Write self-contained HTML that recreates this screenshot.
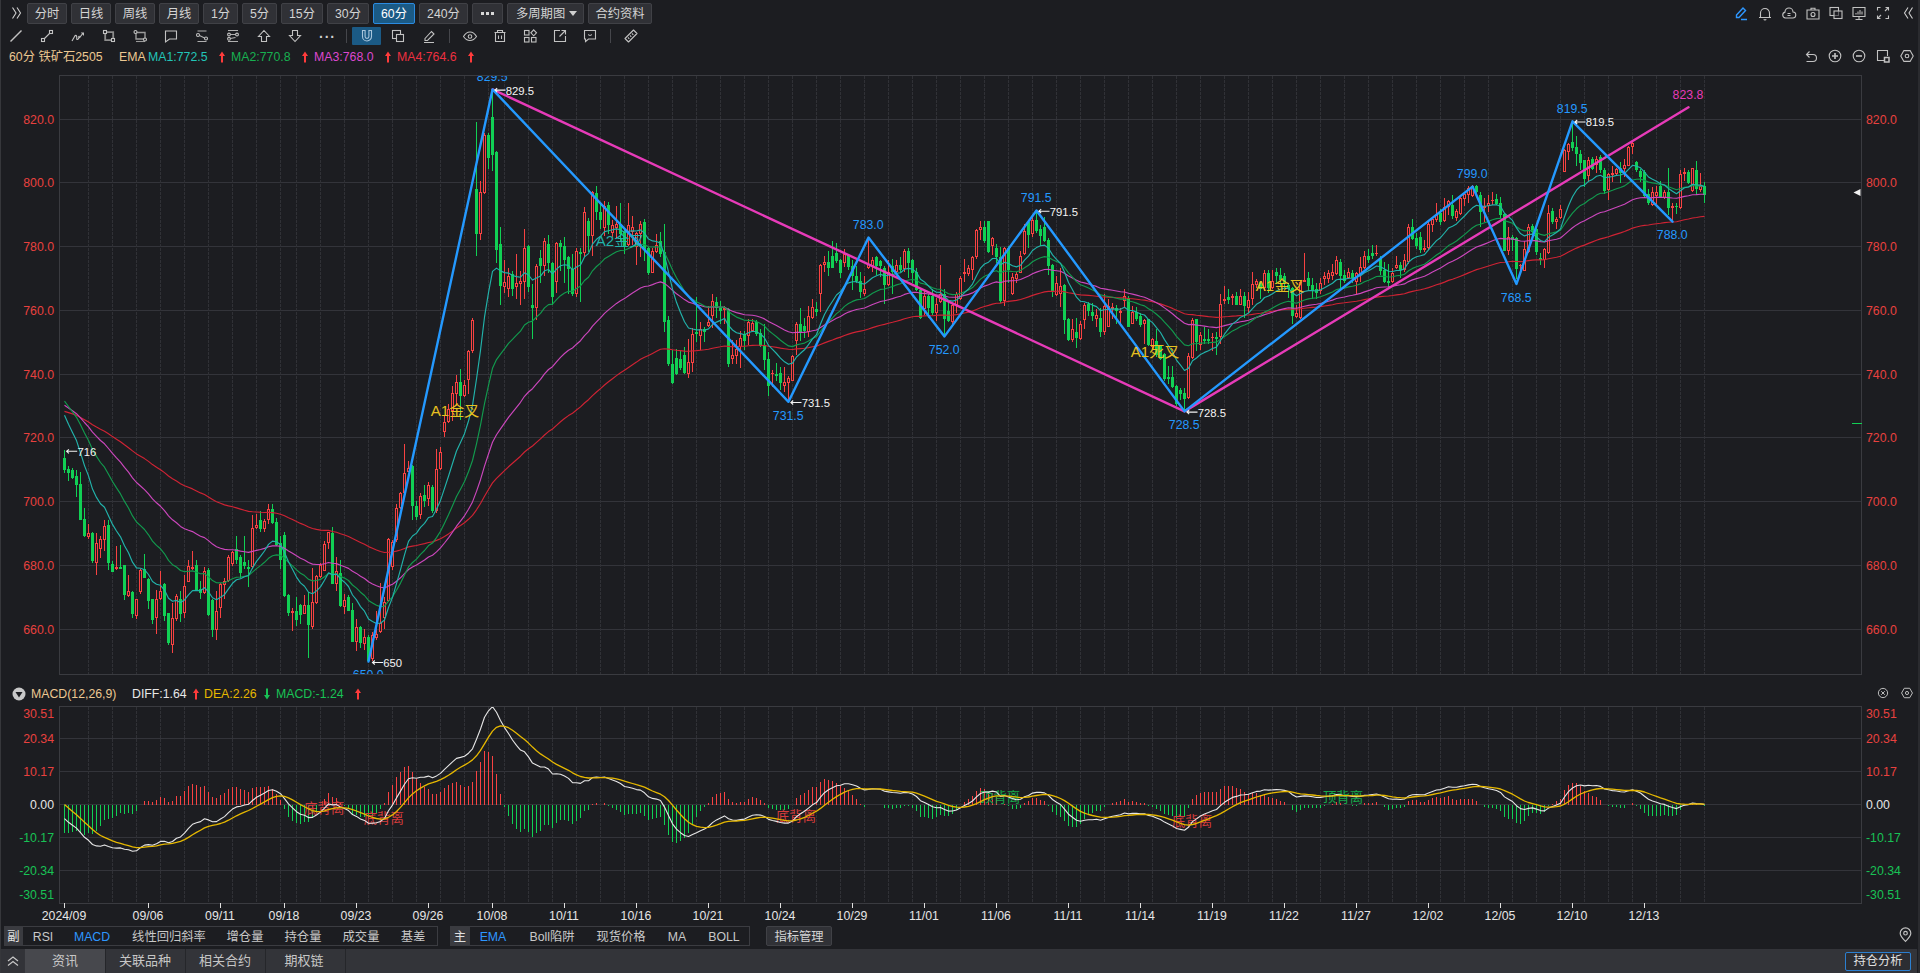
<!DOCTYPE html>
<html lang="zh-CN"><head><meta charset="utf-8"><title>60分 铁矿石2505</title>
<style>
html,body{margin:0;padding:0}
body{width:1920px;height:973px;background:#1c1d21;position:relative;overflow:hidden;font-family:"Liberation Sans","Noto Sans CJK SC",sans-serif;font-size:12.3px;color:#d2d2d2}
.ic{position:absolute;overflow:visible}
.b{position:absolute;top:3px;height:19px;line-height:20px;border:1px solid #404146;background:#303136;border-radius:2px;text-align:center;color:#d4d4d4;box-sizing:content-box}
.b.on{background:#1b5a85;border-color:#2b8be0;color:#fff}
.t{position:absolute;white-space:nowrap;line-height:16px}
.sep{position:absolute;width:1px;background:#45464b}
</style></head><body>
<div style="position:absolute;left:0;top:0;width:1px;height:973px;background:#36373b"></div>
<div style="position:absolute;left:1918px;top:0;width:2px;height:973px;background:#2a2b2f"></div>

<svg width="1920" height="973" viewBox="0 0 1920 973" style="position:absolute;left:0;top:0">
<defs><clipPath id="cm"><rect x="60" y="76" width="1801" height="598"/></clipPath><clipPath id="cd"><rect x="60" y="707" width="1801" height="196"/></clipPath></defs>
<g shape-rendering="crispEdges" fill="none" stroke="#33343a" stroke-width="1">
<path d="M60 629.5H1861M60 565.5H1861M60 501.5H1861M60 437.5H1861M60 374.5H1861M60 310.5H1861M60 246.5H1861M60 182.5H1861M60 119.5H1861"/>
<path stroke-dasharray="3 1" stroke="#303136" d="M88.5 76V674M112.5 76V674M136.5 76V674M160.5 76V674M184.5 76V674M208.5 76V674M232.5 76V674M256.5 76V674M280.5 76V674M296.5 76V674M320.5 76V674M344.5 76V674M368.5 76V674M392.5 76V674M416.5 76V674M440.5 76V674M464.5 76V674M488.5 76V674M504.5 76V674M528.5 76V674M552.5 76V674M576.5 76V674M600.5 76V674M624.5 76V674M648.5 76V674M672.5 76V674M696.5 76V674M720.5 76V674M744.5 76V674M768.5 76V674M792.5 76V674M816.5 76V674M840.5 76V674M864.5 76V674M888.5 76V674M912.5 76V674M936.5 76V674M960.5 76V674M984.5 76V674M1008.5 76V674M1032.5 76V674M1056.5 76V674M1080.5 76V674M1104.5 76V674M1128.5 76V674M1152.5 76V674M1176.5 76V674M1200.5 76V674M1224.5 76V674M1248.5 76V674M1272.5 76V674M1296.5 76V674M1320.5 76V674M1344.5 76V674M1368.5 76V674M1392.5 76V674M1416.5 76V674M1440.5 76V674M1464.5 76V674M1488.5 76V674M1512.5 76V674M1536.5 76V674M1560.5 76V674M1584.5 76V674M1608.5 76V674M1632.5 76V674M1656.5 76V674M1680.5 76V674M1704.5 76V674"/>
<path d="M60 738.5H1861M60 771.5H1861M60 804.5H1861M60 837.5H1861M60 870.5H1861"/>
<path stroke-dasharray="3 1" stroke="#303136" d="M88.5 707V903M112.5 707V903M136.5 707V903M160.5 707V903M184.5 707V903M208.5 707V903M232.5 707V903M256.5 707V903M280.5 707V903M296.5 707V903M320.5 707V903M344.5 707V903M368.5 707V903M392.5 707V903M416.5 707V903M440.5 707V903M464.5 707V903M488.5 707V903M504.5 707V903M528.5 707V903M552.5 707V903M576.5 707V903M600.5 707V903M624.5 707V903M648.5 707V903M672.5 707V903M696.5 707V903M720.5 707V903M744.5 707V903M768.5 707V903M792.5 707V903M816.5 707V903M840.5 707V903M864.5 707V903M888.5 707V903M912.5 707V903M936.5 707V903M960.5 707V903M984.5 707V903M1008.5 707V903M1032.5 707V903M1056.5 707V903M1080.5 707V903M1104.5 707V903M1128.5 707V903M1152.5 707V903M1176.5 707V903M1200.5 707V903M1224.5 707V903M1248.5 707V903M1272.5 707V903M1296.5 707V903M1320.5 707V903M1344.5 707V903M1368.5 707V903M1392.5 707V903M1416.5 707V903M1440.5 707V903M1464.5 707V903M1488.5 707V903M1512.5 707V903M1536.5 707V903M1560.5 707V903M1584.5 707V903M1608.5 707V903M1632.5 707V903M1656.5 707V903M1680.5 707V903M1704.5 707V903"/>
<path stroke="#3a3b40" d="M59.5 75.5H1861.5V674.5H59.5Z M59.5 706.5H1861.5V903.5H59.5Z"/>
</g>
<g clip-path="url(#cm)" shape-rendering="crispEdges">
<path d="M64.5 450V473M68.5 466V481M72.5 468V479M76.5 470V497M80.5 472V520M84.5 508V537M92.5 532V563M108.5 520V570M112.5 561V572M120.5 545V569M124.5 565V600M132.5 591V618M144.5 554V578M148.5 578V609M152.5 599V624M164.5 583V621M168.5 613V645M180.5 591V622M196.5 560V590M200.5 581V599M208.5 568V616M212.5 599V637M236.5 536V564M240.5 555V578M244.5 536V569M248.5 560V587M260.5 511V532M272.5 504V524M276.5 518V546M280.5 536V569M284.5 532V597M288.5 594V616M296.5 597V626M300.5 604V624M308.5 592V658M332.5 527V584M340.5 560V607M348.5 595V611M352.5 603V642M360.5 626V648M368.5 635V662M412.5 465V520M416.5 501V520M424.5 485V507M432.5 485V513M460.5 369V420M476.5 122V256M488.5 133V169M492.5 90V171M496.5 151V263M500.5 227V305M512.5 271V296M528.5 245V292M532.5 284V339M540.5 250V283M548.5 235V273M552.5 262V305M560.5 240V271M564.5 237V283M568.5 256V294M572.5 254V296M580.5 248V302M588.5 218V252M596.5 186V220M600.5 203V229M608.5 202V234M620.5 203V241M624.5 228V254M644.5 219V261M648.5 247V275M660.5 232V257M664.5 224V332M668.5 316V366M672.5 350V384M676.5 349V375M680.5 351V370M684.5 347V374M696.5 297V342M704.5 327V342M716.5 297V318M720.5 301V324M728.5 308V367M744.5 331V350M756.5 320V336M760.5 329V347M764.5 324V370M768.5 352V396M776.5 363V381M780.5 367V390M800.5 308V341M804.5 318V338M816.5 302V316M828.5 251V276M832.5 241V268M836.5 243V263M840.5 259V278M848.5 254V270M852.5 260V290M856.5 266V283M860.5 272V298M876.5 256V275M880.5 260V277M884.5 266V304M892.5 259V294M900.5 257V272M908.5 248V278M912.5 259V283M916.5 268V291M920.5 289V319M928.5 294V318M932.5 289V315M944.5 289V335M948.5 301V322M984.5 221V243M988.5 221V253M996.5 244V263M1000.5 247V303M1008.5 246V283M1028.5 221V248M1036.5 211V233M1040.5 225V246M1044.5 217V242M1048.5 238V275M1052.5 264V297M1064.5 284V334M1068.5 318V341M1076.5 318V348M1088.5 302V316M1092.5 303V321M1100.5 308V337M1116.5 305V324M1128.5 296V327M1136.5 307V321M1140.5 313V327M1148.5 319V346M1156.5 329V357M1160.5 345V360M1164.5 353V381M1168.5 366V384M1172.5 366V388M1176.5 385V406M1180.5 388V400M1184.5 388V411M1196.5 319V351M1204.5 327V344M1208.5 329V344M1216.5 332V355M1228.5 289V304M1236.5 292V305M1244.5 292V318M1260.5 281V299M1268.5 270V293M1276.5 268V283M1280.5 268V286M1284.5 273V288M1288.5 283V298M1292.5 287V324M1308.5 272V291M1312.5 278V299M1316.5 283V299M1340.5 259V288M1344.5 270V283M1352.5 270V283M1368.5 249V263M1372.5 245V259M1380.5 256V275M1384.5 262V283M1388.5 264V287M1400.5 262V278M1412.5 219V240M1416.5 233V249M1420.5 232V253M1440.5 209V225M1452.5 195V219M1476.5 185V193M1480.5 192V227M1496.5 194V205M1500.5 197V219M1504.5 213V251M1512.5 235V251M1516.5 237V279M1532.5 224V241M1536.5 228V255M1540.5 253V265M1552.5 208V224M1572.5 121V151M1576.5 136V166M1580.5 150V170M1584.5 160V187M1592.5 157V170M1600.5 155V173M1604.5 168V194M1620.5 162V183M1636.5 161V172M1640.5 169V182M1644.5 170V198M1648.5 189V205M1660.5 181V198M1668.5 168V215M1676.5 203V214M1688.5 170V184M1696.5 161V195M1704.5 182V203" stroke="#11d054" fill="none"/>
<path d="M63 458h3V470h-3ZM67 469h3V473h-3ZM71 470h3V478h-3ZM75 476h3V485h-3ZM79 484h3V520h-3ZM83 519h3V536h-3ZM91 533h3V561h-3ZM107 525h3V563h-3ZM111 564h3V572h-3ZM119 567h3V569h-3ZM123 565h3V595h-3ZM131 592h3V614h-3ZM143 569h3V578h-3ZM147 579h3V601h-3ZM151 599h3V620h-3ZM163 584h3V616h-3ZM167 613h3V643h-3ZM179 599h3V614h-3ZM195 565h3V590h-3ZM199 589h3V593h-3ZM207 570h3V615h-3ZM211 600h3V630h-3ZM235 549h3V560h-3ZM239 557h3V573h-3ZM243 562h3V566h-3ZM247 567h3V569h-3ZM259 520h3V529h-3ZM271 509h3V523h-3ZM275 522h3V545h-3ZM279 543h3V560h-3ZM283 535h3V596h-3ZM287 595h3V613h-3ZM295 611h3V620h-3ZM299 605h3V615h-3ZM307 605h3V625h-3ZM331 533h3V584h-3ZM339 573h3V606h-3ZM347 597h3V611h-3ZM351 610h3V642h-3ZM359 627h3V643h-3ZM367 637h3V661h-3ZM411 466h3V506h-3ZM415 506h3V517h-3ZM423 495h3V501h-3ZM431 487h3V511h-3ZM459 382h3V396h-3ZM475 189h3V234h-3ZM487 135h3V158h-3ZM491 117h3V155h-3ZM495 152h3V250h-3ZM499 244h3V286h-3ZM511 274h3V289h-3ZM527 246h3V287h-3ZM531 305h3V308h-3ZM539 258h3V266h-3ZM547 244h3V263h-3ZM551 263h3V297h-3ZM559 243h3V247h-3ZM563 246h3V260h-3ZM567 257h3V269h-3ZM571 269h3V294h-3ZM579 252h3V254h-3ZM587 221h3V236h-3ZM595 193h3V212h-3ZM599 212h3V220h-3ZM607 205h3V225h-3ZM619 224h3V234h-3ZM623 231h3V247h-3ZM643 222h3V250h-3ZM647 248h3V273h-3ZM659 241h3V254h-3ZM663 252h3V322h-3ZM667 320h3V364h-3ZM671 364h3V383h-3ZM675 358h3V374h-3ZM679 359h3V368h-3ZM683 355h3V373h-3ZM695 332h3V334h-3ZM703 329h3V332h-3ZM715 302h3V308h-3ZM719 308h3V311h-3ZM727 309h3V364h-3ZM743 334h3V341h-3ZM755 322h3V334h-3ZM759 333h3V346h-3ZM763 345h3V360h-3ZM767 359h3V386h-3ZM775 374h3V376h-3ZM779 373h3V383h-3ZM799 324h3V333h-3ZM803 326h3V331h-3ZM815 309h3V312h-3ZM827 262h3V268h-3ZM831 256h3V268h-3ZM835 253h3V261h-3ZM839 260h3V273h-3ZM847 255h3V267h-3ZM851 266h3V276h-3ZM855 276h3V281h-3ZM859 281h3V292h-3ZM875 257h3V266h-3ZM879 261h3V266h-3ZM883 268h3V285h-3ZM891 266h3V272h-3ZM899 265h3V270h-3ZM907 251h3V263h-3ZM911 260h3V273h-3ZM915 272h3V290h-3ZM919 290h3V318h-3ZM927 296h3V308h-3ZM931 296h3V313h-3ZM943 294h3V319h-3ZM947 311h3V321h-3ZM983 227h3V241h-3ZM987 221h3V252h-3ZM995 248h3V257h-3ZM999 257h3V301h-3ZM1007 248h3V270h-3ZM1027 222h3V235h-3ZM1035 220h3V231h-3ZM1039 229h3V236h-3ZM1043 227h3V241h-3ZM1047 240h3V266h-3ZM1051 265h3V292h-3ZM1063 285h3V320h-3ZM1067 319h3V340h-3ZM1075 332h3V338h-3ZM1087 304h3V311h-3ZM1091 312h3V316h-3ZM1099 318h3V332h-3ZM1115 308h3V311h-3ZM1127 298h3V327h-3ZM1135 312h3V319h-3ZM1139 316h3V325h-3ZM1147 319h3V345h-3ZM1155 341h3V355h-3ZM1159 346h3V359h-3ZM1163 354h3V379h-3ZM1167 377h3V379h-3ZM1171 377h3V387h-3ZM1175 386h3V404h-3ZM1179 390h3V394h-3ZM1183 393h3V399h-3ZM1195 319h3V342h-3ZM1203 339h3V341h-3ZM1207 339h3V341h-3ZM1215 337h3V339h-3ZM1227 297h3V300h-3ZM1235 296h3V305h-3ZM1243 296h3V306h-3ZM1259 282h3V289h-3ZM1267 273h3V288h-3ZM1275 272h3V276h-3ZM1279 275h3V280h-3ZM1283 276h3V283h-3ZM1287 285h3V289h-3ZM1291 288h3V316h-3ZM1307 278h3V286h-3ZM1311 285h3V291h-3ZM1315 289h3V293h-3ZM1339 262h3V276h-3ZM1343 275h3V281h-3ZM1351 273h3V278h-3ZM1367 256h3V260h-3ZM1371 253h3V256h-3ZM1379 258h3V271h-3ZM1383 270h3V282h-3ZM1387 281h3V283h-3ZM1399 265h3V270h-3ZM1411 227h3V239h-3ZM1415 238h3V246h-3ZM1419 237h3V250h-3ZM1439 213h3V222h-3ZM1451 205h3V216h-3ZM1475 186h3V192h-3ZM1479 195h3V212h-3ZM1495 199h3V204h-3ZM1499 203h3V215h-3ZM1503 214h3V251h-3ZM1511 237h3V240h-3ZM1515 238h3V269h-3ZM1531 226h3V232h-3ZM1535 229h3V252h-3ZM1539 258h3V260h-3ZM1551 211h3V222h-3ZM1571 142h3V148h-3ZM1575 147h3V154h-3ZM1579 154h3V163h-3ZM1583 160h3V179h-3ZM1591 159h3V169h-3ZM1599 157h3V170h-3ZM1603 170h3V191h-3ZM1619 168h3V173h-3ZM1635 162h3V170h-3ZM1639 171h3V177h-3ZM1643 172h3V196h-3ZM1647 194h3V203h-3ZM1659 186h3V198h-3ZM1667 192h3V208h-3ZM1675 206h3V207h-3ZM1687 172h3V183h-3ZM1695 170h3V189h-3ZM1703 186h3V195h-3Z" fill="#11d054"/>
<path d="M88.5 524V533M88.5 537V539M96.5 533V543M96.5 563V575M100.5 536V539M100.5 549V558M104.5 520V526M104.5 540V551M116.5 546V567M116.5 569V570M128.5 575V591M128.5 596V597M136.5 616V619M140.5 569V570M140.5 592V594M156.5 590V599M156.5 618V634M160.5 571V591M160.5 599V600M172.5 603V618M172.5 645V653M176.5 594V596M176.5 619V621M184.5 575V586M184.5 613V618M188.5 560V566M192.5 551V567M192.5 569V570M204.5 567V571M204.5 593V594M216.5 591V611M216.5 630V640M220.5 583V584M220.5 608V618M224.5 578V581M224.5 585V599M228.5 555V557M228.5 581V582M232.5 551V552M232.5 564V566M252.5 515V528M252.5 567V569M256.5 514V525M256.5 528V529M264.5 519V521M264.5 529V532M268.5 504V509M268.5 520V524M292.5 608V611M292.5 613V631M304.5 595V605M312.5 568V602M312.5 627V629M316.5 575V576M316.5 603V604M320.5 563V565M320.5 577V578M324.5 541V544M328.5 543V549M336.5 557V571M336.5 584V591M344.5 594V600M344.5 607V614M356.5 619V627M356.5 642V651M364.5 629V637M364.5 644V650M372.5 632V635M372.5 659V661M376.5 611V634M376.5 638V640M380.5 583V623M380.5 632V633M384.5 597V602M384.5 618V629M388.5 538V539M388.5 601V602M392.5 540V542M392.5 567V570M396.5 504V508M396.5 540V542M400.5 492V493M400.5 508V509M404.5 444V473M404.5 493V494M408.5 461V468M420.5 493V496M420.5 515V519M428.5 482V485M428.5 499V506M436.5 449V469M436.5 511V513M440.5 447V452M440.5 469V470M444.5 416V422M444.5 432V437M448.5 404V409M448.5 422V423M452.5 386V393M452.5 411V421M456.5 375V382M456.5 394V406M464.5 380V385M464.5 396V397M468.5 350V351M468.5 380V394M472.5 318V320M472.5 351V353M480.5 181V192M480.5 234V240M484.5 133V135M484.5 193V194M504.5 260V282M504.5 287V293M508.5 268V276M508.5 289V297M516.5 254V283M516.5 287V299M520.5 271V281M520.5 284V305M524.5 229V248M524.5 282V299M536.5 264V266M536.5 308V320M544.5 238V241M544.5 266V276M556.5 242V243M556.5 282V293M576.5 248V251M576.5 294V297M584.5 207V212M584.5 253V257M592.5 191V192M592.5 236V256M604.5 201V206M604.5 228V236M612.5 220V225M612.5 233V237M616.5 206V224M616.5 228V239M628.5 203V225M628.5 245V246M632.5 216V227M632.5 232V245M636.5 232V233M636.5 247V265M640.5 221V224M640.5 234V257M652.5 248V251M656.5 234V245M656.5 252V253M688.5 339V362M688.5 374V378M692.5 328V334M692.5 363V372M700.5 322V329M700.5 336V350M708.5 306V322M708.5 326V327M712.5 294V301M712.5 316V328M724.5 306V308M724.5 310V324M732.5 340V355M732.5 359V364M736.5 340V349M736.5 356V364M740.5 331V338M740.5 347V368M748.5 319V322M748.5 336V345M752.5 319V323M752.5 331V332M772.5 370V373M772.5 374V387M771 373.5h3M784.5 367V382M784.5 386V392M788.5 376V378M788.5 383V400M792.5 355V356M796.5 322V324M796.5 341V355M808.5 306V316M808.5 332V337M812.5 299V307M812.5 318V319M820.5 264V265M820.5 294V312M824.5 256V262M824.5 265V272M844.5 249V254M844.5 263V267M864.5 276V289M864.5 294V296M868.5 238V264M868.5 268V269M872.5 257V260M872.5 266V272M888.5 260V272M888.5 285V286M896.5 260V265M896.5 272V273M904.5 249V251M904.5 269V272M924.5 290V296M924.5 309V315M936.5 298V304M936.5 313V321M940.5 265V294M940.5 302V303M952.5 303V305M952.5 322V324M956.5 292V294M956.5 306V313M960.5 276V278M960.5 299V300M964.5 259V272M964.5 274V282M968.5 265V268M968.5 274V276M972.5 256V257M972.5 270V280M976.5 229V230M976.5 257V259M980.5 221V227M980.5 230V240M992.5 237V238M992.5 246V255M1004.5 247V248M1004.5 301V306M1012.5 273V277M1012.5 294V295M1016.5 272V274M1016.5 279V283M1020.5 251V256M1024.5 224V231M1024.5 254V255M1032.5 216V220M1032.5 234V237M1056.5 276V283M1056.5 295V296M1060.5 268V286M1060.5 294V307M1072.5 319V329M1072.5 340V342M1080.5 321V324M1080.5 339V340M1084.5 303V305M1084.5 320V329M1096.5 309V315M1096.5 319V327M1104.5 294V306M1104.5 332V335M1108.5 299V306M1112.5 303V307M1112.5 309V319M1120.5 308V311M1120.5 313V326M1124.5 289V296M1124.5 301V308M1132.5 306V312M1144.5 319V320M1144.5 324V344M1152.5 338V339M1152.5 347V349M1188.5 353V356M1188.5 398V399M1192.5 318V320M1192.5 358V359M1200.5 332V335M1200.5 345V350M1212.5 333V337M1212.5 338V351M1211 337.5h3M1220.5 294V304M1220.5 337V344M1224.5 286V299M1224.5 301V304M1232.5 294V296M1232.5 298V305M1240.5 289V296M1248.5 292V300M1248.5 308V313M1252.5 272V284M1252.5 299V305M1256.5 279V281M1256.5 285V288M1264.5 270V273M1264.5 288V291M1272.5 270V281M1272.5 288V289M1296.5 305V313M1296.5 317V318M1300.5 280V282M1300.5 318V319M1304.5 253V280M1320.5 278V283M1320.5 291V294M1324.5 272V276M1324.5 279V285M1328.5 270V273M1328.5 279V283M1332.5 264V272M1332.5 276V280M1336.5 256V260M1336.5 274V275M1348.5 268V272M1348.5 278V279M1356.5 272V273M1356.5 282V294M1360.5 257V267M1360.5 274V282M1364.5 251V256M1364.5 268V269M1376.5 245V253M1376.5 254V256M1375 253.5h3M1392.5 268V273M1392.5 282V283M1396.5 256V265M1396.5 268V269M1404.5 254V260M1404.5 270V272M1408.5 224V227M1408.5 262V264M1424.5 240V248M1424.5 250V252M1428.5 222V224M1428.5 248V250M1432.5 218V219M1432.5 225V232M1436.5 203V215M1436.5 220V222M1444.5 198V207M1444.5 221V222M1448.5 200V201M1448.5 207V215M1456.5 209V211M1456.5 218V221M1460.5 197V198M1460.5 214V215M1464.5 193V194M1464.5 199V206M1468.5 186V188M1468.5 195V203M1472.5 185V186M1472.5 196V197M1484.5 198V206M1484.5 208V222M1488.5 195V203M1488.5 206V212M1492.5 192V200M1492.5 201V205M1491 200.5h3M1508.5 227V237M1508.5 251V255M1520.5 264V265M1520.5 266V272M1519 265.5h3M1524.5 241V249M1528.5 224V227M1528.5 252V253M1544.5 248V249M1544.5 260V268M1548.5 205V213M1548.5 253V254M1556.5 217V219M1556.5 222V229M1560.5 205V209M1560.5 218V219M1564.5 149V150M1568.5 143V144M1568.5 152V160M1588.5 157V160M1588.5 176V182M1596.5 156V159M1596.5 165V173M1608.5 173V174M1608.5 190V200M1612.5 166V173M1612.5 175V182M1616.5 168V169M1616.5 174V175M1624.5 159V165M1624.5 169V177M1628.5 146V147M1632.5 142V143M1632.5 147V154M1652.5 187V192M1652.5 205V206M1656.5 186V192M1656.5 196V204M1664.5 190V192M1664.5 198V199M1672.5 203V206M1672.5 208V220M1680.5 170V174M1680.5 208V209M1684.5 168V172M1684.5 174V181M1692.5 191V192M1700.5 173V186M1700.5 190V192" stroke="#f84242" fill="none"/>
<path d="M87.5 533.5h2V536.5h-2ZM95.5 543.5h2V562.5h-2ZM99.5 539.5h2V548.5h-2ZM103.5 526.5h2V539.5h-2ZM115.5 567.5h2V568.5h-2ZM127.5 591.5h2V595.5h-2ZM135.5 599.5h2V615.5h-2ZM139.5 570.5h2V591.5h-2ZM155.5 599.5h2V617.5h-2ZM159.5 591.5h2V598.5h-2ZM171.5 618.5h2V644.5h-2ZM175.5 596.5h2V618.5h-2ZM183.5 586.5h2V612.5h-2ZM187.5 566.5h2V581.5h-2ZM191.5 567.5h2V568.5h-2ZM203.5 571.5h2V592.5h-2ZM215.5 611.5h2V629.5h-2ZM219.5 584.5h2V607.5h-2ZM223.5 581.5h2V584.5h-2ZM227.5 557.5h2V580.5h-2ZM231.5 552.5h2V563.5h-2ZM251.5 528.5h2V566.5h-2ZM255.5 525.5h2V527.5h-2ZM263.5 521.5h2V528.5h-2ZM267.5 509.5h2V519.5h-2ZM291.5 611.5h2V612.5h-2ZM303.5 605.5h2V613.5h-2ZM311.5 602.5h2V626.5h-2ZM315.5 576.5h2V602.5h-2ZM319.5 565.5h2V576.5h-2ZM323.5 544.5h2V570.5h-2ZM327.5 532.5h2V542.5h-2ZM335.5 571.5h2V583.5h-2ZM343.5 600.5h2V606.5h-2ZM355.5 627.5h2V641.5h-2ZM363.5 637.5h2V643.5h-2ZM371.5 635.5h2V658.5h-2ZM375.5 634.5h2V637.5h-2ZM379.5 623.5h2V631.5h-2ZM383.5 602.5h2V617.5h-2ZM387.5 539.5h2V600.5h-2ZM391.5 542.5h2V566.5h-2ZM395.5 508.5h2V539.5h-2ZM399.5 493.5h2V507.5h-2ZM403.5 473.5h2V492.5h-2ZM407.5 468.5h2V471.5h-2ZM419.5 496.5h2V514.5h-2ZM427.5 485.5h2V498.5h-2ZM435.5 469.5h2V510.5h-2ZM439.5 452.5h2V468.5h-2ZM443.5 422.5h2V431.5h-2ZM447.5 409.5h2V421.5h-2ZM451.5 393.5h2V410.5h-2ZM455.5 382.5h2V393.5h-2ZM463.5 385.5h2V395.5h-2ZM467.5 351.5h2V379.5h-2ZM471.5 320.5h2V350.5h-2ZM479.5 192.5h2V233.5h-2ZM483.5 135.5h2V192.5h-2ZM503.5 282.5h2V286.5h-2ZM507.5 276.5h2V288.5h-2ZM515.5 283.5h2V286.5h-2ZM519.5 281.5h2V283.5h-2ZM523.5 248.5h2V281.5h-2ZM535.5 266.5h2V307.5h-2ZM543.5 241.5h2V265.5h-2ZM555.5 243.5h2V281.5h-2ZM575.5 251.5h2V293.5h-2ZM583.5 212.5h2V252.5h-2ZM591.5 192.5h2V235.5h-2ZM603.5 206.5h2V227.5h-2ZM611.5 225.5h2V232.5h-2ZM615.5 224.5h2V227.5h-2ZM627.5 225.5h2V244.5h-2ZM631.5 227.5h2V231.5h-2ZM635.5 233.5h2V246.5h-2ZM639.5 224.5h2V233.5h-2ZM651.5 251.5h2V272.5h-2ZM655.5 245.5h2V251.5h-2ZM687.5 362.5h2V373.5h-2ZM691.5 334.5h2V362.5h-2ZM699.5 329.5h2V335.5h-2ZM707.5 322.5h2V325.5h-2ZM711.5 301.5h2V315.5h-2ZM723.5 308.5h2V309.5h-2ZM731.5 355.5h2V358.5h-2ZM735.5 349.5h2V355.5h-2ZM739.5 338.5h2V346.5h-2ZM747.5 322.5h2V335.5h-2ZM751.5 323.5h2V330.5h-2ZM783.5 382.5h2V385.5h-2ZM787.5 378.5h2V382.5h-2ZM791.5 356.5h2V380.5h-2ZM795.5 324.5h2V340.5h-2ZM807.5 316.5h2V331.5h-2ZM811.5 307.5h2V317.5h-2ZM819.5 265.5h2V293.5h-2ZM823.5 262.5h2V264.5h-2ZM843.5 254.5h2V262.5h-2ZM863.5 289.5h2V293.5h-2ZM867.5 264.5h2V267.5h-2ZM871.5 260.5h2V265.5h-2ZM887.5 272.5h2V284.5h-2ZM895.5 265.5h2V271.5h-2ZM903.5 251.5h2V268.5h-2ZM923.5 296.5h2V308.5h-2ZM935.5 304.5h2V312.5h-2ZM939.5 294.5h2V301.5h-2ZM951.5 305.5h2V321.5h-2ZM955.5 294.5h2V305.5h-2ZM959.5 278.5h2V298.5h-2ZM963.5 272.5h2V273.5h-2ZM967.5 268.5h2V273.5h-2ZM971.5 257.5h2V269.5h-2ZM975.5 230.5h2V256.5h-2ZM979.5 227.5h2V229.5h-2ZM991.5 238.5h2V245.5h-2ZM1003.5 248.5h2V300.5h-2ZM1011.5 277.5h2V293.5h-2ZM1015.5 274.5h2V278.5h-2ZM1019.5 256.5h2V272.5h-2ZM1023.5 231.5h2V253.5h-2ZM1031.5 220.5h2V233.5h-2ZM1055.5 283.5h2V294.5h-2ZM1059.5 286.5h2V293.5h-2ZM1071.5 329.5h2V339.5h-2ZM1079.5 324.5h2V338.5h-2ZM1083.5 305.5h2V319.5h-2ZM1095.5 315.5h2V318.5h-2ZM1103.5 306.5h2V331.5h-2ZM1107.5 306.5h2V326.5h-2ZM1111.5 307.5h2V308.5h-2ZM1119.5 311.5h2V312.5h-2ZM1123.5 296.5h2V300.5h-2ZM1131.5 312.5h2V323.5h-2ZM1143.5 320.5h2V323.5h-2ZM1151.5 339.5h2V346.5h-2ZM1187.5 356.5h2V397.5h-2ZM1191.5 320.5h2V357.5h-2ZM1199.5 335.5h2V344.5h-2ZM1219.5 304.5h2V336.5h-2ZM1223.5 299.5h2V300.5h-2ZM1231.5 296.5h2V297.5h-2ZM1239.5 296.5h2V304.5h-2ZM1247.5 300.5h2V307.5h-2ZM1251.5 284.5h2V298.5h-2ZM1255.5 281.5h2V284.5h-2ZM1263.5 273.5h2V287.5h-2ZM1271.5 281.5h2V287.5h-2ZM1295.5 313.5h2V316.5h-2ZM1299.5 282.5h2V317.5h-2ZM1303.5 280.5h2V281.5h-2ZM1319.5 283.5h2V290.5h-2ZM1323.5 276.5h2V278.5h-2ZM1327.5 273.5h2V278.5h-2ZM1331.5 272.5h2V275.5h-2ZM1335.5 260.5h2V273.5h-2ZM1347.5 272.5h2V277.5h-2ZM1355.5 273.5h2V281.5h-2ZM1359.5 267.5h2V273.5h-2ZM1363.5 256.5h2V267.5h-2ZM1391.5 273.5h2V281.5h-2ZM1395.5 265.5h2V267.5h-2ZM1403.5 260.5h2V269.5h-2ZM1407.5 227.5h2V261.5h-2ZM1423.5 248.5h2V249.5h-2ZM1427.5 224.5h2V247.5h-2ZM1431.5 219.5h2V224.5h-2ZM1435.5 215.5h2V219.5h-2ZM1443.5 207.5h2V220.5h-2ZM1447.5 201.5h2V206.5h-2ZM1455.5 211.5h2V217.5h-2ZM1459.5 198.5h2V213.5h-2ZM1463.5 194.5h2V198.5h-2ZM1467.5 188.5h2V194.5h-2ZM1471.5 186.5h2V195.5h-2ZM1483.5 206.5h2V207.5h-2ZM1487.5 203.5h2V205.5h-2ZM1507.5 237.5h2V250.5h-2ZM1523.5 249.5h2V270.5h-2ZM1527.5 227.5h2V251.5h-2ZM1543.5 249.5h2V259.5h-2ZM1547.5 213.5h2V252.5h-2ZM1555.5 219.5h2V221.5h-2ZM1559.5 209.5h2V217.5h-2ZM1563.5 150.5h2V171.5h-2ZM1567.5 144.5h2V151.5h-2ZM1587.5 160.5h2V175.5h-2ZM1595.5 159.5h2V164.5h-2ZM1607.5 174.5h2V189.5h-2ZM1611.5 173.5h2V174.5h-2ZM1615.5 169.5h2V173.5h-2ZM1623.5 165.5h2V168.5h-2ZM1627.5 147.5h2V165.5h-2ZM1631.5 143.5h2V146.5h-2ZM1651.5 192.5h2V204.5h-2ZM1655.5 192.5h2V195.5h-2ZM1663.5 192.5h2V197.5h-2ZM1671.5 206.5h2V207.5h-2ZM1679.5 174.5h2V207.5h-2ZM1683.5 172.5h2V173.5h-2ZM1691.5 168.5h2V190.5h-2ZM1699.5 186.5h2V189.5h-2Z" stroke="#f84242" fill="#1c1d21"/>
</g>
<polyline points="64.5,411.4 68.5,412.6 72.5,413.9 76.5,415.3 80.5,417.4 84.5,419.7 88.5,422.0 92.5,424.7 96.5,427.1 100.5,429.3 104.5,431.2 108.5,433.8 112.5,436.6 116.5,439.2 120.5,441.7 124.5,444.8 128.5,447.7 132.5,450.9 136.5,453.9 140.5,456.2 144.5,458.6 148.5,461.4 152.5,464.6 156.5,467.2 160.5,469.7 164.5,472.6 168.5,476.0 172.5,478.8 176.5,481.1 180.5,483.7 184.5,485.7 188.5,487.3 192.5,488.9 196.5,490.9 200.5,492.9 204.5,494.5 208.5,496.9 212.5,499.5 216.5,501.7 220.5,503.3 224.5,504.9 228.5,505.9 232.5,506.8 236.5,507.9 240.5,509.1 244.5,510.3 248.5,511.4 252.5,511.8 256.5,512.0 260.5,512.3 264.5,512.5 268.5,512.4 272.5,512.6 276.5,513.3 280.5,514.2 284.5,515.8 288.5,517.8 292.5,519.6 296.5,521.6 300.5,523.4 304.5,525.0 308.5,527.0 312.5,528.5 316.5,529.4 320.5,530.1 324.5,530.4 328.5,530.4 332.5,531.5 336.5,532.3 340.5,533.7 344.5,535.0 348.5,536.5 352.5,538.6 356.5,540.4 360.5,542.4 364.5,544.3 368.5,546.6 372.5,548.3 376.5,550.0 380.5,551.5 384.5,552.5 388.5,552.2 392.5,552.0 396.5,551.1 400.5,550.0 404.5,548.5 408.5,546.9 412.5,546.1 416.5,545.5 420.5,544.5 424.5,543.6 428.5,542.5 432.5,541.9 436.5,540.4 440.5,538.7 444.5,536.4 448.5,533.9 452.5,531.1 456.5,528.1 460.5,525.5 464.5,522.7 468.5,519.3 472.5,515.4 476.5,509.8 480.5,503.5 484.5,496.2 488.5,489.5 492.5,482.9 496.5,478.3 500.5,474.5 504.5,470.7 508.5,466.8 512.5,463.3 516.5,459.7 520.5,456.2 524.5,452.0 528.5,448.8 532.5,446.0 536.5,442.4 540.5,438.9 544.5,435.0 548.5,431.6 552.5,429.0 556.5,425.3 560.5,421.7 564.5,418.5 568.5,415.6 572.5,413.2 576.5,410.0 580.5,406.9 584.5,403.0 588.5,399.7 592.5,395.6 596.5,392.0 600.5,388.6 604.5,385.0 608.5,381.8 612.5,378.7 616.5,375.6 620.5,372.8 624.5,370.3 628.5,367.5 632.5,364.7 636.5,362.1 640.5,359.3 644.5,357.2 648.5,355.5 652.5,353.4 656.5,351.3 660.5,349.3 664.5,348.8 668.5,349.1 672.5,349.8 676.5,350.3 680.5,350.6 684.5,351.1 688.5,351.3 692.5,350.9 696.5,350.6 700.5,350.2 704.5,349.8 708.5,349.3 712.5,348.3 716.5,347.5 720.5,346.8 724.5,346.0 728.5,346.4 732.5,346.6 736.5,346.6 740.5,346.4 744.5,346.3 748.5,345.8 752.5,345.4 756.5,345.2 760.5,345.2 764.5,345.5 768.5,346.3 772.5,346.8 776.5,347.4 780.5,348.1 784.5,348.7 788.5,349.3 792.5,349.5 796.5,348.9 800.5,348.6 804.5,348.3 808.5,347.6 812.5,346.8 816.5,346.1 820.5,344.5 824.5,342.9 828.5,341.4 832.5,340.0 836.5,338.4 840.5,337.1 844.5,335.5 848.5,334.1 852.5,332.9 856.5,331.9 860.5,331.1 864.5,330.3 868.5,329.0 872.5,327.6 876.5,326.4 880.5,325.2 884.5,324.4 888.5,323.3 892.5,322.3 896.5,321.2 900.5,320.1 904.5,318.8 908.5,317.7 912.5,316.8 916.5,316.3 920.5,316.3 924.5,315.9 928.5,315.7 932.5,315.7 936.5,315.4 940.5,315.0 944.5,315.1 948.5,315.2 952.5,315.0 956.5,314.6 960.5,313.9 964.5,313.0 968.5,312.1 972.5,311.1 976.5,309.5 980.5,307.8 984.5,306.5 988.5,305.4 992.5,304.1 996.5,303.2 1000.5,303.1 1004.5,302.0 1008.5,301.4 1012.5,300.9 1016.5,300.4 1020.5,299.5 1024.5,298.2 1028.5,296.9 1032.5,295.4 1036.5,294.1 1040.5,293.0 1044.5,291.9 1048.5,291.4 1052.5,291.4 1056.5,291.3 1060.5,291.1 1064.5,291.7 1068.5,292.7 1072.5,293.4 1076.5,294.3 1080.5,294.9 1084.5,295.1 1088.5,295.4 1092.5,295.8 1096.5,296.2 1100.5,296.9 1104.5,297.0 1108.5,297.2 1112.5,297.4 1116.5,297.7 1120.5,297.9 1124.5,297.9 1128.5,298.5 1132.5,298.7 1136.5,299.2 1140.5,299.7 1144.5,300.1 1148.5,301.0 1152.5,301.7 1156.5,302.8 1160.5,303.9 1164.5,305.4 1168.5,306.8 1172.5,308.4 1176.5,310.3 1180.5,312.0 1184.5,313.7 1188.5,314.5 1192.5,314.6 1196.5,315.2 1200.5,315.6 1204.5,316.1 1208.5,316.6 1212.5,317.0 1216.5,317.4 1220.5,317.2 1224.5,316.8 1228.5,316.5 1232.5,316.1 1236.5,315.9 1240.5,315.5 1244.5,315.3 1248.5,315.0 1252.5,314.4 1256.5,313.7 1260.5,313.2 1264.5,312.4 1268.5,311.9 1272.5,311.3 1276.5,310.6 1280.5,310.0 1284.5,309.5 1288.5,309.1 1292.5,309.2 1296.5,309.3 1300.5,308.7 1304.5,308.2 1308.5,307.7 1312.5,307.4 1316.5,307.1 1320.5,306.6 1324.5,306.0 1328.5,305.4 1332.5,304.7 1336.5,303.8 1340.5,303.3 1344.5,302.8 1348.5,302.2 1352.5,301.7 1356.5,301.2 1360.5,300.5 1364.5,299.6 1368.5,298.8 1372.5,298.0 1376.5,297.1 1380.5,296.6 1384.5,296.3 1388.5,296.0 1392.5,295.5 1396.5,294.9 1400.5,294.4 1404.5,293.8 1408.5,292.4 1412.5,291.4 1416.5,290.5 1420.5,289.7 1424.5,288.8 1428.5,287.6 1432.5,286.2 1436.5,284.8 1440.5,283.6 1444.5,282.1 1448.5,280.4 1452.5,279.2 1456.5,277.8 1460.5,276.2 1464.5,274.6 1468.5,272.9 1472.5,271.2 1476.5,269.6 1480.5,268.5 1484.5,267.2 1488.5,266.0 1492.5,264.7 1496.5,263.5 1500.5,262.5 1504.5,262.3 1508.5,261.8 1512.5,261.3 1516.5,261.5 1520.5,261.6 1524.5,261.3 1528.5,260.6 1532.5,260.1 1536.5,259.9 1540.5,259.9 1544.5,259.7 1548.5,258.8 1552.5,258.0 1556.5,257.3 1560.5,256.3 1564.5,254.2 1568.5,252.0 1572.5,250.0 1576.5,248.1 1580.5,246.4 1584.5,245.1 1588.5,243.4 1592.5,241.9 1596.5,240.3 1600.5,238.9 1604.5,237.9 1608.5,236.7 1612.5,235.4 1616.5,234.1 1620.5,232.9 1624.5,231.5 1628.5,229.9 1632.5,228.1 1636.5,227.0 1640.5,226.0 1644.5,225.4 1648.5,225.0 1652.5,224.3 1656.5,223.7 1660.5,223.2 1664.5,222.6 1668.5,222.3 1672.5,222.0 1676.5,221.7 1680.5,220.7 1684.5,219.8 1688.5,219.0 1692.5,218.0 1696.5,217.5 1700.5,216.8 1704.5,216.4" fill="none" stroke="#cf2334" stroke-width="1.15" stroke-linejoin="round" clip-path="url(#cm)"/>
<polyline points="64.5,405.3 68.5,408.0 72.5,410.7 76.5,413.7 80.5,417.8 84.5,422.5 88.5,426.8 92.5,432.1 96.5,436.4 100.5,440.5 104.5,443.8 108.5,448.5 112.5,453.3 116.5,457.8 120.5,462.1 124.5,467.4 128.5,472.2 132.5,477.8 136.5,482.5 140.5,486.0 144.5,489.6 148.5,493.9 152.5,498.9 156.5,502.8 160.5,506.3 164.5,510.6 168.5,515.8 172.5,519.8 176.5,522.8 180.5,526.4 184.5,528.7 188.5,530.2 192.5,531.6 196.5,533.9 200.5,536.2 204.5,537.6 208.5,540.6 212.5,544.1 216.5,546.7 220.5,548.2 224.5,549.4 228.5,549.7 232.5,549.8 236.5,550.2 240.5,551.1 244.5,551.7 248.5,552.4 252.5,551.4 256.5,550.4 260.5,549.5 264.5,548.4 268.5,546.8 272.5,545.9 276.5,545.8 280.5,546.4 284.5,548.3 288.5,550.9 292.5,553.2 296.5,555.8 300.5,558.2 304.5,560.0 308.5,562.5 312.5,564.1 316.5,564.5 320.5,564.5 324.5,563.7 328.5,562.5 332.5,563.3 336.5,563.6 340.5,565.3 344.5,566.7 348.5,568.4 352.5,571.2 356.5,573.4 360.5,576.2 364.5,578.5 368.5,581.8 372.5,583.9 376.5,585.8 380.5,587.3 384.5,587.9 388.5,585.9 392.5,584.2 396.5,581.2 400.5,577.8 404.5,573.7 408.5,569.5 412.5,567.0 416.5,565.1 420.5,562.4 424.5,560.0 428.5,557.0 432.5,555.2 436.5,551.9 440.5,547.9 444.5,543.0 448.5,537.8 452.5,532.1 456.5,526.2 460.5,521.1 464.5,515.8 468.5,509.3 472.5,501.9 476.5,491.4 480.5,479.7 484.5,466.1 488.5,454.0 492.5,442.3 496.5,434.8 500.5,428.9 504.5,423.2 508.5,417.4 512.5,412.3 516.5,407.3 520.5,402.3 524.5,396.3 528.5,392.0 532.5,388.7 536.5,383.9 540.5,379.3 544.5,373.9 548.5,369.5 552.5,366.7 556.5,361.8 560.5,357.3 564.5,353.5 568.5,350.2 572.5,348.0 576.5,344.2 580.5,340.7 584.5,335.6 588.5,331.7 592.5,326.2 596.5,321.8 600.5,317.8 604.5,313.4 608.5,309.9 612.5,306.6 616.5,303.4 620.5,300.7 624.5,298.6 628.5,295.7 632.5,293.0 636.5,290.6 640.5,288.0 644.5,286.5 648.5,286.0 652.5,284.6 656.5,283.0 660.5,281.9 664.5,283.4 668.5,286.6 672.5,290.4 676.5,293.7 680.5,296.6 684.5,299.6 688.5,302.1 692.5,303.3 696.5,304.6 700.5,305.5 704.5,306.6 708.5,307.2 712.5,306.9 716.5,307.0 720.5,307.1 724.5,307.2 728.5,309.4 732.5,311.2 736.5,312.6 740.5,313.6 744.5,314.7 748.5,315.0 752.5,315.3 756.5,316.0 760.5,317.2 764.5,318.9 768.5,321.5 772.5,323.5 776.5,325.5 780.5,327.8 784.5,329.9 788.5,331.8 792.5,332.8 796.5,332.4 800.5,332.4 804.5,332.4 808.5,331.8 812.5,330.8 816.5,330.0 820.5,327.5 824.5,324.9 828.5,322.7 832.5,320.5 836.5,318.2 840.5,316.4 844.5,314.0 848.5,312.1 852.5,310.7 856.5,309.5 860.5,308.8 864.5,308.0 868.5,306.3 872.5,304.5 876.5,303.0 880.5,301.5 884.5,300.8 888.5,299.7 892.5,298.6 896.5,297.3 900.5,296.2 904.5,294.4 908.5,293.2 912.5,292.4 916.5,292.3 920.5,293.3 924.5,293.4 928.5,294.0 932.5,294.8 936.5,295.1 940.5,295.0 944.5,296.0 948.5,297.0 952.5,297.3 956.5,297.2 960.5,296.4 964.5,295.4 968.5,294.4 972.5,292.9 976.5,290.5 980.5,288.0 984.5,286.1 988.5,284.8 992.5,283.0 996.5,281.9 1000.5,282.7 1004.5,281.3 1008.5,280.9 1012.5,280.8 1016.5,280.5 1020.5,279.5 1024.5,277.7 1028.5,276.0 1032.5,273.8 1036.5,272.1 1040.5,270.7 1044.5,269.5 1048.5,269.4 1052.5,270.2 1056.5,270.7 1060.5,271.3 1064.5,273.2 1068.5,275.9 1072.5,278.0 1076.5,280.3 1080.5,282.0 1084.5,282.9 1088.5,284.0 1092.5,285.3 1096.5,286.4 1100.5,288.2 1104.5,288.9 1108.5,289.6 1112.5,290.2 1116.5,291.0 1120.5,291.8 1124.5,292.0 1128.5,293.3 1132.5,294.1 1136.5,295.1 1140.5,296.3 1144.5,297.2 1148.5,299.1 1152.5,300.7 1156.5,302.8 1160.5,305.0 1164.5,307.9 1168.5,310.7 1172.5,313.7 1176.5,317.2 1180.5,320.2 1184.5,323.3 1188.5,324.6 1192.5,324.4 1196.5,325.1 1200.5,325.5 1204.5,326.1 1208.5,326.7 1212.5,327.1 1216.5,327.6 1220.5,326.7 1224.5,325.6 1228.5,324.6 1232.5,323.5 1236.5,322.8 1240.5,321.7 1244.5,321.1 1248.5,320.3 1252.5,318.8 1256.5,317.4 1260.5,316.3 1264.5,314.6 1268.5,313.5 1272.5,312.2 1276.5,310.8 1280.5,309.6 1284.5,308.6 1288.5,307.8 1292.5,308.1 1296.5,308.3 1300.5,307.3 1304.5,306.2 1308.5,305.4 1312.5,304.8 1316.5,304.3 1320.5,303.5 1324.5,302.4 1328.5,301.3 1332.5,300.1 1336.5,298.5 1340.5,297.7 1344.5,297.0 1348.5,296.0 1352.5,295.3 1356.5,294.4 1360.5,293.4 1364.5,291.9 1368.5,290.6 1372.5,289.3 1376.5,287.8 1380.5,287.2 1384.5,287.0 1388.5,286.8 1392.5,286.3 1396.5,285.4 1400.5,284.8 1404.5,283.9 1408.5,281.6 1412.5,279.9 1416.5,278.6 1420.5,277.5 1424.5,276.3 1428.5,274.3 1432.5,272.1 1436.5,269.9 1440.5,268.0 1444.5,265.6 1448.5,263.1 1452.5,261.3 1456.5,259.3 1460.5,256.9 1464.5,254.4 1468.5,251.8 1472.5,249.3 1476.5,247.0 1480.5,245.6 1484.5,244.1 1488.5,242.5 1492.5,240.8 1496.5,239.3 1500.5,238.4 1504.5,238.9 1508.5,238.8 1512.5,238.9 1516.5,240.0 1520.5,241.0 1524.5,241.3 1528.5,240.7 1532.5,240.4 1536.5,240.9 1540.5,241.6 1544.5,241.9 1548.5,240.8 1552.5,240.0 1556.5,239.2 1560.5,238.0 1564.5,234.6 1568.5,231.1 1572.5,227.8 1576.5,224.9 1580.5,222.5 1584.5,220.8 1588.5,218.4 1592.5,216.5 1596.5,214.2 1600.5,212.5 1604.5,211.7 1608.5,210.2 1612.5,208.7 1616.5,207.2 1620.5,205.8 1624.5,204.2 1628.5,202.0 1632.5,199.7 1636.5,198.5 1640.5,197.7 1644.5,197.6 1648.5,197.9 1652.5,197.6 1656.5,197.4 1660.5,197.4 1664.5,197.2 1668.5,197.6 1672.5,198.0 1676.5,198.3 1680.5,197.4 1684.5,196.4 1688.5,195.8 1692.5,194.8 1696.5,194.6 1700.5,194.2 1704.5,194.2" fill="none" stroke="#cc47bd" stroke-width="1.15" stroke-linejoin="round" clip-path="url(#cm)"/>
<polyline points="64.5,401.2 68.5,406.5 72.5,411.8 76.5,417.3 80.5,424.8 84.5,433.1 88.5,440.5 92.5,449.4 96.5,456.4 100.5,462.5 104.5,467.2 108.5,474.3 112.5,481.5 116.5,487.9 120.5,493.9 124.5,501.4 128.5,508.0 132.5,515.9 136.5,522.0 140.5,525.6 144.5,529.5 148.5,534.8 152.5,541.1 156.5,545.4 160.5,548.8 164.5,553.8 168.5,560.4 172.5,564.7 176.5,567.0 180.5,570.5 184.5,571.6 188.5,571.2 192.5,570.9 196.5,572.3 200.5,573.8 204.5,573.6 208.5,576.7 212.5,580.6 216.5,582.8 220.5,582.9 224.5,582.7 228.5,580.8 232.5,578.7 236.5,577.3 240.5,577.0 244.5,576.2 248.5,575.6 252.5,572.1 256.5,568.6 260.5,565.6 264.5,562.3 268.5,558.3 272.5,555.7 276.5,554.9 280.5,555.3 284.5,558.3 288.5,562.4 292.5,565.9 296.5,569.9 300.5,573.2 304.5,575.6 308.5,579.3 312.5,580.9 316.5,580.5 320.5,579.4 324.5,576.8 328.5,573.5 332.5,574.2 336.5,574.0 340.5,576.4 344.5,578.1 348.5,580.5 352.5,585.0 356.5,588.1 360.5,592.2 364.5,595.5 368.5,600.4 372.5,602.9 376.5,605.3 380.5,606.6 384.5,606.2 388.5,601.2 392.5,596.8 396.5,590.3 400.5,583.1 404.5,574.9 408.5,566.9 412.5,562.5 416.5,559.1 420.5,554.4 424.5,550.5 428.5,545.6 432.5,543.1 436.5,537.6 440.5,531.3 444.5,523.2 448.5,514.8 452.5,505.8 456.5,496.6 460.5,489.2 464.5,481.5 468.5,471.8 472.5,460.5 476.5,443.8 480.5,425.1 484.5,403.6 488.5,385.4 492.5,368.3 496.5,359.6 500.5,354.1 504.5,348.8 508.5,343.4 512.5,339.3 516.5,335.1 520.5,331.1 524.5,325.0 528.5,322.2 532.5,321.1 536.5,317.0 540.5,313.3 544.5,307.9 548.5,304.6 552.5,304.1 556.5,299.6 560.5,295.7 564.5,293.0 568.5,291.2 572.5,291.4 576.5,288.5 580.5,285.9 584.5,280.5 588.5,277.2 592.5,270.8 596.5,266.5 600.5,263.1 604.5,258.8 608.5,256.4 612.5,254.1 616.5,251.8 620.5,250.5 624.5,250.3 628.5,248.4 632.5,246.8 636.5,245.8 640.5,244.2 644.5,244.6 648.5,246.7 652.5,247.0 656.5,246.8 660.5,247.3 664.5,252.8 668.5,261.1 672.5,270.1 676.5,277.8 680.5,284.5 684.5,291.1 688.5,296.4 692.5,299.2 696.5,301.8 700.5,303.8 704.5,306.0 708.5,307.1 712.5,306.7 716.5,306.8 720.5,307.1 724.5,307.1 728.5,311.3 732.5,314.6 736.5,317.1 740.5,318.6 744.5,320.3 748.5,320.4 752.5,320.6 756.5,321.6 760.5,323.4 764.5,326.1 768.5,330.5 772.5,333.6 776.5,336.7 780.5,340.2 784.5,343.3 788.5,345.9 792.5,346.6 796.5,344.9 800.5,344.0 804.5,343.1 808.5,341.1 812.5,338.6 816.5,336.6 820.5,331.3 824.5,326.1 828.5,321.8 832.5,317.8 836.5,313.6 840.5,310.6 844.5,306.4 848.5,303.5 852.5,301.4 856.5,299.9 860.5,299.3 864.5,298.5 868.5,295.9 872.5,293.3 876.5,291.2 880.5,289.4 884.5,289.0 888.5,287.7 892.5,286.5 896.5,284.9 900.5,283.8 904.5,281.4 908.5,280.0 912.5,279.5 916.5,280.3 920.5,283.1 924.5,284.0 928.5,285.8 932.5,287.8 936.5,289.0 940.5,289.4 944.5,291.5 948.5,293.7 952.5,294.6 956.5,294.5 960.5,293.3 964.5,291.7 968.5,290.0 972.5,287.6 976.5,283.3 980.5,279.1 984.5,276.3 988.5,274.5 992.5,271.8 996.5,270.7 1000.5,273.0 1004.5,271.1 1008.5,271.1 1012.5,271.5 1016.5,271.7 1020.5,270.6 1024.5,267.7 1028.5,265.2 1032.5,261.8 1036.5,259.6 1040.5,257.8 1044.5,256.6 1048.5,257.2 1052.5,259.8 1056.5,261.5 1060.5,263.3 1064.5,267.5 1068.5,272.9 1072.5,277.1 1076.5,281.6 1080.5,284.7 1084.5,286.2 1088.5,288.0 1092.5,290.1 1096.5,291.9 1100.5,294.9 1104.5,295.7 1108.5,296.5 1112.5,297.2 1116.5,298.2 1120.5,299.1 1124.5,298.9 1128.5,301.0 1132.5,301.8 1136.5,303.1 1140.5,304.8 1144.5,305.9 1148.5,308.8 1152.5,311.1 1156.5,314.3 1160.5,317.7 1164.5,322.2 1168.5,326.4 1172.5,330.9 1176.5,336.3 1180.5,340.6 1184.5,344.9 1188.5,345.7 1192.5,343.8 1196.5,343.7 1200.5,343.1 1204.5,343.0 1208.5,342.8 1212.5,342.4 1216.5,342.1 1220.5,339.3 1224.5,336.4 1228.5,333.7 1232.5,330.9 1236.5,329.0 1240.5,326.5 1244.5,325.0 1248.5,323.2 1252.5,320.3 1256.5,317.3 1260.5,315.3 1264.5,312.1 1268.5,310.3 1272.5,308.1 1276.5,305.8 1280.5,303.8 1284.5,302.3 1288.5,301.3 1292.5,302.4 1296.5,303.2 1300.5,301.6 1304.5,300.0 1308.5,298.9 1312.5,298.3 1316.5,297.9 1320.5,296.8 1324.5,295.3 1328.5,293.6 1332.5,292.0 1336.5,289.6 1340.5,288.6 1344.5,288.1 1348.5,286.9 1352.5,286.2 1356.5,285.2 1360.5,283.9 1364.5,281.8 1368.5,280.2 1372.5,278.4 1376.5,276.5 1380.5,276.1 1384.5,276.5 1388.5,277.0 1392.5,276.7 1396.5,275.8 1400.5,275.4 1404.5,274.2 1408.5,270.7 1412.5,268.4 1416.5,266.7 1420.5,265.5 1424.5,264.2 1428.5,261.2 1432.5,258.1 1436.5,255.0 1440.5,252.5 1444.5,249.1 1448.5,245.6 1452.5,243.4 1456.5,241.0 1460.5,237.8 1464.5,234.6 1468.5,231.1 1472.5,227.8 1476.5,225.2 1480.5,224.2 1484.5,222.8 1488.5,221.4 1492.5,219.8 1496.5,218.6 1500.5,218.3 1504.5,220.7 1508.5,221.9 1512.5,223.3 1516.5,226.7 1520.5,229.5 1524.5,230.9 1528.5,230.6 1532.5,230.7 1536.5,232.3 1540.5,234.4 1544.5,235.4 1548.5,233.8 1552.5,232.9 1556.5,231.9 1560.5,230.2 1564.5,224.3 1568.5,218.4 1572.5,213.1 1576.5,208.8 1580.5,205.4 1584.5,203.5 1588.5,200.3 1592.5,198.0 1596.5,195.1 1600.5,193.2 1604.5,193.1 1608.5,191.7 1612.5,190.3 1616.5,188.7 1620.5,187.5 1624.5,185.9 1628.5,183.0 1632.5,180.0 1636.5,179.3 1640.5,179.1 1644.5,180.4 1648.5,182.1 1652.5,182.9 1656.5,183.5 1660.5,184.6 1664.5,185.1 1668.5,186.8 1672.5,188.2 1676.5,189.7 1680.5,188.5 1684.5,187.3 1688.5,186.9 1692.5,185.6 1696.5,185.8 1700.5,185.8 1704.5,186.5" fill="none" stroke="#129a4e" stroke-width="1.15" stroke-linejoin="round" clip-path="url(#cm)"/>
<polyline points="64.5,415.2 68.5,424.2 72.5,432.4 76.5,440.6 80.5,452.7 84.5,465.6 88.5,475.9 92.5,489.1 96.5,497.4 100.5,503.8 104.5,507.2 108.5,515.8 112.5,524.4 116.5,531.0 120.5,536.8 124.5,545.8 128.5,552.8 132.5,562.2 136.5,567.9 140.5,568.3 144.5,569.7 148.5,574.5 152.5,581.5 156.5,584.2 160.5,585.3 164.5,590.1 168.5,598.3 172.5,601.3 176.5,600.4 180.5,602.5 184.5,599.9 188.5,594.8 192.5,590.6 196.5,590.4 200.5,590.8 204.5,587.7 208.5,591.9 212.5,597.8 216.5,599.7 220.5,597.3 224.5,594.7 228.5,588.9 232.5,583.3 236.5,579.7 240.5,578.7 244.5,576.7 248.5,575.5 252.5,568.1 256.5,561.4 260.5,556.4 264.5,551.0 268.5,544.4 272.5,541.1 276.5,541.7 280.5,544.6 284.5,552.4 288.5,561.8 292.5,569.3 296.5,577.1 300.5,582.9 304.5,586.3 308.5,592.2 312.5,593.7 316.5,590.9 320.5,586.9 324.5,580.3 328.5,572.9 332.5,574.6 336.5,574.1 340.5,578.9 344.5,582.2 348.5,586.5 352.5,595.0 356.5,599.9 360.5,606.6 364.5,611.2 368.5,618.9 372.5,621.4 376.5,623.4 380.5,623.3 384.5,620.0 388.5,607.5 392.5,597.4 396.5,583.7 400.5,569.7 404.5,554.8 408.5,541.4 412.5,536.0 416.5,533.1 420.5,527.4 424.5,523.3 428.5,517.5 432.5,516.5 436.5,509.3 440.5,500.4 444.5,488.4 448.5,476.3 452.5,463.5 456.5,451.0 460.5,442.6 464.5,433.7 468.5,421.0 472.5,405.4 476.5,379.0 480.5,350.3 484.5,317.2 488.5,292.6 492.5,271.4 496.5,268.1 500.5,270.9 504.5,272.6 508.5,273.1 512.5,275.5 516.5,276.6 520.5,277.2 524.5,272.8 528.5,275.0 532.5,280.1 536.5,277.9 540.5,276.1 544.5,270.8 548.5,269.5 552.5,273.8 556.5,269.1 560.5,265.7 564.5,264.8 568.5,265.4 572.5,269.9 576.5,267.0 580.5,265.0 584.5,256.9 588.5,253.6 592.5,244.1 596.5,239.3 600.5,236.3 604.5,231.6 608.5,230.7 612.5,229.8 616.5,228.9 620.5,229.7 624.5,232.4 628.5,231.3 632.5,230.7 636.5,231.0 640.5,229.9 644.5,233.0 648.5,239.1 652.5,240.9 656.5,241.5 660.5,243.3 664.5,255.4 668.5,272.1 672.5,289.2 676.5,302.3 680.5,312.5 684.5,321.8 688.5,328.0 692.5,329.0 696.5,329.9 700.5,329.8 704.5,330.2 708.5,328.9 712.5,324.6 716.5,322.1 720.5,320.4 724.5,318.4 728.5,325.4 732.5,330.0 736.5,332.8 740.5,333.6 744.5,334.7 748.5,332.7 752.5,331.2 756.5,331.7 760.5,333.9 764.5,337.9 768.5,345.3 772.5,349.4 776.5,353.5 780.5,358.1 784.5,361.8 788.5,364.3 792.5,363.1 796.5,357.0 800.5,353.3 804.5,349.8 808.5,344.7 812.5,338.9 816.5,334.7 820.5,324.0 824.5,314.5 828.5,307.3 832.5,301.2 836.5,295.0 840.5,291.6 844.5,285.8 848.5,282.9 852.5,281.8 856.5,281.6 860.5,283.2 864.5,284.1 868.5,281.0 872.5,277.7 876.5,275.8 880.5,274.3 884.5,275.9 888.5,275.2 892.5,274.7 896.5,273.2 900.5,272.7 904.5,269.3 908.5,268.4 912.5,269.1 916.5,272.4 920.5,279.3 924.5,281.9 928.5,286.0 932.5,290.1 936.5,292.2 940.5,292.4 944.5,296.5 948.5,300.3 952.5,301.1 956.5,300.0 960.5,296.6 964.5,292.7 968.5,289.0 972.5,284.1 976.5,275.8 980.5,268.2 984.5,264.0 988.5,262.2 992.5,258.5 996.5,258.3 1000.5,264.9 1004.5,262.3 1008.5,263.5 1012.5,265.7 1016.5,266.9 1020.5,265.3 1024.5,260.1 1028.5,256.2 1032.5,250.5 1036.5,247.6 1040.5,245.8 1044.5,245.1 1048.5,248.2 1052.5,254.9 1056.5,259.3 1060.5,263.3 1064.5,272.0 1068.5,282.5 1072.5,289.7 1076.5,297.2 1080.5,301.3 1084.5,301.8 1088.5,303.2 1092.5,305.1 1096.5,306.6 1100.5,310.6 1104.5,309.8 1108.5,309.2 1112.5,308.9 1116.5,309.1 1120.5,309.3 1124.5,307.3 1128.5,310.3 1132.5,310.6 1136.5,312.0 1140.5,314.0 1144.5,315.0 1148.5,319.6 1152.5,322.6 1156.5,327.7 1160.5,332.5 1164.5,339.6 1168.5,345.7 1172.5,352.1 1176.5,360.1 1180.5,365.2 1184.5,370.5 1188.5,368.2 1192.5,360.8 1196.5,358.0 1200.5,354.5 1204.5,352.4 1208.5,350.7 1212.5,348.5 1216.5,347.1 1220.5,340.5 1224.5,334.2 1228.5,328.9 1232.5,323.9 1236.5,321.0 1240.5,317.2 1244.5,315.4 1248.5,313.1 1252.5,308.6 1256.5,304.3 1260.5,302.0 1264.5,297.5 1268.5,296.0 1272.5,293.7 1276.5,291.0 1280.5,289.3 1284.5,288.3 1288.5,288.5 1292.5,292.7 1296.5,295.8 1300.5,293.6 1304.5,291.5 1308.5,290.6 1312.5,290.6 1316.5,291.0 1320.5,289.8 1324.5,287.7 1328.5,285.4 1332.5,283.3 1336.5,279.7 1340.5,279.1 1344.5,279.4 1348.5,278.3 1352.5,278.2 1356.5,277.3 1360.5,275.8 1364.5,272.8 1368.5,270.8 1372.5,268.5 1376.5,266.0 1380.5,266.8 1384.5,269.1 1388.5,271.3 1392.5,271.5 1396.5,270.5 1400.5,270.4 1404.5,268.8 1408.5,262.4 1412.5,258.8 1416.5,256.7 1420.5,255.8 1424.5,254.6 1428.5,249.9 1432.5,245.2 1436.5,240.6 1440.5,237.7 1444.5,233.0 1448.5,228.1 1452.5,226.3 1456.5,223.9 1460.5,219.9 1464.5,216.0 1468.5,211.7 1472.5,207.8 1476.5,205.3 1480.5,206.3 1484.5,206.2 1488.5,205.8 1492.5,204.9 1496.5,204.7 1500.5,206.3 1504.5,213.2 1508.5,216.8 1512.5,220.4 1516.5,227.9 1520.5,233.6 1524.5,235.9 1528.5,234.5 1532.5,234.1 1536.5,236.9 1540.5,240.5 1544.5,241.7 1548.5,237.3 1552.5,235.0 1556.5,232.5 1560.5,228.9 1564.5,216.8 1568.5,205.7 1572.5,196.8 1576.5,190.2 1580.5,186.1 1584.5,185.1 1588.5,181.3 1592.5,179.4 1596.5,176.2 1600.5,175.3 1604.5,177.7 1608.5,177.1 1612.5,176.5 1616.5,175.4 1620.5,175.0 1624.5,173.5 1628.5,169.4 1632.5,165.3 1636.5,166.1 1640.5,167.8 1644.5,172.2 1648.5,177.0 1652.5,179.3 1656.5,181.3 1660.5,183.8 1664.5,185.0 1668.5,188.6 1672.5,191.2 1676.5,193.7 1680.5,190.7 1684.5,187.8 1688.5,187.0 1692.5,184.2 1696.5,185.0 1700.5,185.1 1704.5,186.6" fill="none" stroke="#22b3ab" stroke-width="1.15" stroke-linejoin="round" clip-path="url(#cm)"/>
<g clip-path="url(#cm)" fill="none" stroke-linecap="round" stroke-linejoin="round">
<polyline points="492.5,89.4 1184.5,411.4 1688.5,107.3" stroke="#e73bb9" stroke-width="2.4"/>
<polyline points="368.5,661.6 492.5,89.4 788.5,401.8 868.5,237.6 944.5,336.4 1036.5,210.5 1184.5,411.4 1472.5,186.6 1516.5,283.9 1572.5,121.3 1672.5,221.7" stroke="#2499ff" stroke-width="2.4"/>
</g>
<g clip-path="url(#cd)">
<path d="M144.5 804.5V801M148.5 804.5V801M152.5 804.5V802M156.5 804.5V800M160.5 804.5V797M164.5 804.5V798M168.5 804.5V802M172.5 804.5V801M176.5 804.5V796M180.5 804.5V796M184.5 804.5V791M188.5 804.5V786M192.5 804.5V784M196.5 804.5V785M200.5 804.5V787M204.5 804.5V786M208.5 804.5V792M212.5 804.5V797M216.5 804.5V798M220.5 804.5V795M224.5 804.5V793M228.5 804.5V789M232.5 804.5V787M236.5 804.5V787M240.5 804.5V789M244.5 804.5V790M248.5 804.5V792M252.5 804.5V788M256.5 804.5V787M260.5 804.5V787M264.5 804.5V787M268.5 804.5V786M272.5 804.5V789M276.5 804.5V794M280.5 804.5V800M324.5 804.5V799M328.5 804.5V793M332.5 804.5V797M336.5 804.5V798M340.5 804.5V803M384.5 804.5V803M388.5 804.5V792M392.5 804.5V785M396.5 804.5V777M400.5 804.5V772M404.5 804.5V767M408.5 804.5V766M412.5 804.5V772M416.5 804.5V779M420.5 804.5V783M424.5 804.5V787M428.5 804.5V789M432.5 804.5V794M436.5 804.5V794M440.5 804.5V792M444.5 804.5V788M448.5 804.5V785M452.5 804.5V783M456.5 804.5V782M460.5 804.5V785M464.5 804.5V787M468.5 804.5V786M472.5 804.5V782M476.5 804.5V771M480.5 804.5V762M484.5 804.5V751M488.5 804.5V752M492.5 804.5V756M496.5 804.5V774M500.5 804.5V794M592.5 804.5V804M596.5 804.5V803M604.5 804.5V803M708.5 804.5V803M712.5 804.5V797M716.5 804.5V794M720.5 804.5V793M724.5 804.5V792M728.5 804.5V799M732.5 804.5V802M736.5 804.5V803M740.5 804.5V802M744.5 804.5V802M748.5 804.5V799M752.5 804.5V797M756.5 804.5V798M760.5 804.5V800M764.5 804.5V803M796.5 804.5V798M800.5 804.5V795M804.5 804.5V793M808.5 804.5V790M812.5 804.5V787M816.5 804.5V787M820.5 804.5V782M824.5 804.5V779M828.5 804.5V780M832.5 804.5V781M836.5 804.5V783M840.5 804.5V786M844.5 804.5V788M848.5 804.5V791M852.5 804.5V795M856.5 804.5V799M860.5 804.5V804M964.5 804.5V802M968.5 804.5V799M972.5 804.5V796M976.5 804.5V791M980.5 804.5V788M984.5 804.5V789M988.5 804.5V792M992.5 804.5V793M996.5 804.5V797M1004.5 804.5V804M1024.5 804.5V803M1028.5 804.5V801M1032.5 804.5V798M1036.5 804.5V798M1040.5 804.5V800M1044.5 804.5V801M1112.5 804.5V803M1116.5 804.5V802M1120.5 804.5V801M1124.5 804.5V799M1128.5 804.5V802M1132.5 804.5V801M1136.5 804.5V802M1140.5 804.5V803M1144.5 804.5V803M1192.5 804.5V799M1196.5 804.5V795M1200.5 804.5V793M1204.5 804.5V792M1208.5 804.5V792M1212.5 804.5V792M1216.5 804.5V792M1220.5 804.5V789M1224.5 804.5V786M1228.5 804.5V786M1232.5 804.5V786M1236.5 804.5V788M1240.5 804.5V789M1244.5 804.5V792M1248.5 804.5V794M1252.5 804.5V793M1256.5 804.5V793M1260.5 804.5V795M1264.5 804.5V795M1268.5 804.5V797M1272.5 804.5V798M1276.5 804.5V799M1280.5 804.5V801M1284.5 804.5V802M1332.5 804.5V804M1336.5 804.5V802M1340.5 804.5V803M1364.5 804.5V803M1368.5 804.5V803M1372.5 804.5V803M1376.5 804.5V802M1408.5 804.5V801M1412.5 804.5V800M1416.5 804.5V800M1420.5 804.5V802M1424.5 804.5V802M1428.5 804.5V800M1432.5 804.5V798M1436.5 804.5V797M1440.5 804.5V798M1444.5 804.5V797M1448.5 804.5V796M1452.5 804.5V799M1456.5 804.5V800M1460.5 804.5V799M1464.5 804.5V799M1468.5 804.5V799M1472.5 804.5V799M1476.5 804.5V801M1552.5 804.5V804M1556.5 804.5V801M1560.5 804.5V799M1564.5 804.5V790M1568.5 804.5V785M1572.5 804.5V783M1576.5 804.5V783M1580.5 804.5V786M1584.5 804.5V791M1588.5 804.5V793M1592.5 804.5V796M1596.5 804.5V797M1600.5 804.5V800M1632.5 804.5V803M1692.5 804.5V803M1696.5 804.5V804" stroke="#f84242" fill="none" shape-rendering="crispEdges"/>
<path d="M64.5 804.5V833M68.5 804.5V833M72.5 804.5V832M76.5 804.5V831M80.5 804.5V833M84.5 804.5V835M88.5 804.5V833M92.5 804.5V834M96.5 804.5V831M100.5 804.5V826M104.5 804.5V820M108.5 804.5V819M112.5 804.5V818M116.5 804.5V816M120.5 804.5V813M124.5 804.5V814M128.5 804.5V813M132.5 804.5V814M136.5 804.5V811M284.5 804.5V809M288.5 804.5V817M292.5 804.5V821M296.5 804.5V823M300.5 804.5V824M304.5 804.5V822M308.5 804.5V822M312.5 804.5V818M316.5 804.5V811M320.5 804.5V805M344.5 804.5V806M348.5 804.5V809M352.5 804.5V814M356.5 804.5V815M360.5 804.5V817M364.5 804.5V817M368.5 804.5V819M372.5 804.5V816M376.5 804.5V813M380.5 804.5V809M504.5 804.5V807M508.5 804.5V816M512.5 804.5V824M516.5 804.5V829M520.5 804.5V832M524.5 804.5V829M528.5 804.5V832M532.5 804.5V837M536.5 804.5V833M540.5 804.5V831M544.5 804.5V825M548.5 804.5V825M552.5 804.5V828M556.5 804.5V823M560.5 804.5V820M564.5 804.5V820M568.5 804.5V821M572.5 804.5V824M576.5 804.5V821M580.5 804.5V818M584.5 804.5V811M588.5 804.5V810M608.5 804.5V806M612.5 804.5V808M616.5 804.5V810M620.5 804.5V812M624.5 804.5V815M628.5 804.5V814M632.5 804.5V814M636.5 804.5V814M640.5 804.5V813M644.5 804.5V816M648.5 804.5V820M652.5 804.5V819M656.5 804.5V818M660.5 804.5V817M664.5 804.5V825M668.5 804.5V835M672.5 804.5V842M676.5 804.5V843M680.5 804.5V841M684.5 804.5V838M688.5 804.5V833M692.5 804.5V824M696.5 804.5V817M700.5 804.5V811M704.5 804.5V807M768.5 804.5V808M772.5 804.5V809M776.5 804.5V810M780.5 804.5V810M784.5 804.5V810M788.5 804.5V809M864.5 804.5V807M868.5 804.5V805M880.5 804.5V805M884.5 804.5V808M888.5 804.5V808M892.5 804.5V809M896.5 804.5V808M900.5 804.5V808M904.5 804.5V806M908.5 804.5V806M912.5 804.5V808M916.5 804.5V811M920.5 804.5V817M924.5 804.5V817M928.5 804.5V818M932.5 804.5V819M936.5 804.5V817M940.5 804.5V815M944.5 804.5V816M948.5 804.5V816M952.5 804.5V814M956.5 804.5V810M960.5 804.5V805M1000.5 804.5V805M1008.5 804.5V806M1012.5 804.5V809M1016.5 804.5V809M1020.5 804.5V808M1048.5 804.5V806M1052.5 804.5V812M1056.5 804.5V815M1060.5 804.5V817M1064.5 804.5V821M1068.5 804.5V826M1072.5 804.5V827M1076.5 804.5V827M1080.5 804.5V824M1084.5 804.5V819M1088.5 804.5V815M1092.5 804.5V813M1096.5 804.5V811M1100.5 804.5V811M1104.5 804.5V807M1148.5 804.5V806M1152.5 804.5V807M1156.5 804.5V809M1160.5 804.5V811M1164.5 804.5V814M1168.5 804.5V815M1172.5 804.5V816M1176.5 804.5V818M1180.5 804.5V817M1184.5 804.5V816M1188.5 804.5V808M1292.5 804.5V810M1296.5 804.5V812M1300.5 804.5V810M1304.5 804.5V808M1308.5 804.5V808M1312.5 804.5V808M1316.5 804.5V808M1320.5 804.5V808M1324.5 804.5V806M1352.5 804.5V806M1356.5 804.5V806M1360.5 804.5V805M1384.5 804.5V807M1388.5 804.5V810M1392.5 804.5V809M1396.5 804.5V808M1400.5 804.5V808M1404.5 804.5V807M1484.5 804.5V807M1488.5 804.5V808M1492.5 804.5V808M1496.5 804.5V809M1500.5 804.5V811M1504.5 804.5V817M1508.5 804.5V819M1512.5 804.5V819M1516.5 804.5V823M1520.5 804.5V824M1524.5 804.5V821M1528.5 804.5V816M1532.5 804.5V813M1536.5 804.5V813M1540.5 804.5V814M1544.5 804.5V812M1548.5 804.5V806M1604.5 804.5V805M1608.5 804.5V806M1612.5 804.5V807M1616.5 804.5V807M1620.5 804.5V808M1624.5 804.5V808M1628.5 804.5V805M1636.5 804.5V806M1640.5 804.5V809M1644.5 804.5V813M1648.5 804.5V816M1652.5 804.5V816M1656.5 804.5V816M1660.5 804.5V816M1664.5 804.5V815M1668.5 804.5V816M1672.5 804.5V816M1676.5 804.5V815M1680.5 804.5V810M1684.5 804.5V806M1688.5 804.5V805M1704.5 804.5V806" stroke="#11d054" fill="none" shape-rendering="crispEdges"/>
<text x="324.2" y="812.8" fill="#d43c3c" font-size="13.4" text-anchor="middle" font-family="'Liberation Sans','Noto Sans CJK SC',sans-serif">底背离</text>
<text x="383.8" y="822.8" fill="#d43c3c" font-size="13.4" text-anchor="middle" font-family="'Liberation Sans','Noto Sans CJK SC',sans-serif">底背离</text>
<text x="796" y="821" fill="#d43c3c" font-size="13.4" text-anchor="middle" font-family="'Liberation Sans','Noto Sans CJK SC',sans-serif">底背离</text>
<text x="1000" y="802.2" fill="#18a84c" font-size="13.4" text-anchor="middle" font-family="'Liberation Sans','Noto Sans CJK SC',sans-serif">顶背离</text>
<text x="1192" y="826" fill="#d43c3c" font-size="13.4" text-anchor="middle" font-family="'Liberation Sans','Noto Sans CJK SC',sans-serif">底背离</text>
<text x="1343" y="802.2" fill="#18a84c" font-size="13.4" text-anchor="middle" font-family="'Liberation Sans','Noto Sans CJK SC',sans-serif">顶背离</text>
<polyline points="64.5,818.7 68.5,822.3 72.5,825.3 76.5,828.1 80.5,832.7 84.5,837.3 88.5,840.3 92.5,844.5 96.5,845.9 100.5,846.2 104.5,844.9 108.5,846.4 112.5,847.8 116.5,848.1 120.5,847.9 124.5,849.3 128.5,849.7 132.5,851.3 136.5,850.8 140.5,847.5 144.5,845.1 148.5,844.6 152.5,845.3 156.5,843.7 160.5,841.4 164.5,841.2 168.5,842.7 172.5,841.5 176.5,838.3 180.5,836.9 184.5,833.1 188.5,828.3 192.5,824.3 196.5,822.8 200.5,821.6 204.5,818.8 208.5,819.9 212.5,821.8 216.5,821.6 220.5,819.0 224.5,816.6 228.5,812.6 232.5,809.1 236.5,806.9 240.5,806.2 244.5,805.0 248.5,804.3 252.5,800.5 256.5,797.3 260.5,795.2 264.5,793.0 268.5,790.5 272.5,789.8 276.5,791.2 280.5,793.7 284.5,798.6 288.5,803.9 292.5,807.9 296.5,811.7 300.5,814.2 304.5,815.3 308.5,817.6 312.5,817.4 316.5,815.0 320.5,812.1 324.5,808.1 328.5,804.0 332.5,804.9 336.5,804.6 340.5,807.1 344.5,808.6 348.5,810.6 352.5,814.6 356.5,816.4 360.5,819.0 364.5,820.4 368.5,823.2 372.5,823.1 376.5,822.8 380.5,821.4 384.5,818.4 388.5,810.8 392.5,805.1 396.5,797.9 400.5,791.1 404.5,784.2 408.5,778.7 412.5,777.8 416.5,778.2 420.5,777.2 424.5,777.1 428.5,776.1 432.5,777.7 436.5,775.9 440.5,773.4 444.5,769.4 448.5,765.6 452.5,761.8 456.5,758.4 460.5,757.4 464.5,756.3 468.5,753.2 472.5,748.8 476.5,739.2 480.5,729.0 484.5,717.2 488.5,710.8 492.5,706.7 496.5,712.2 500.5,720.5 504.5,727.6 508.5,733.5 512.5,740.0 516.5,745.4 520.5,750.1 524.5,751.8 528.5,756.9 532.5,763.1 536.5,765.0 540.5,767.0 544.5,767.0 548.5,769.1 552.5,774.0 556.5,773.8 560.5,774.3 564.5,776.0 568.5,778.4 572.5,782.7 576.5,782.8 580.5,783.4 584.5,780.7 588.5,780.8 592.5,777.5 596.5,777.0 600.5,777.5 604.5,777.0 608.5,778.6 612.5,780.0 616.5,781.4 620.5,783.5 624.5,786.5 628.5,787.2 632.5,788.2 636.5,789.6 640.5,790.1 644.5,792.8 648.5,796.8 652.5,798.4 656.5,799.1 660.5,800.5 664.5,807.1 668.5,815.6 672.5,823.8 676.5,829.2 680.5,832.7 684.5,835.5 688.5,836.5 692.5,834.6 696.5,832.8 700.5,830.7 704.5,829.0 708.5,826.5 712.5,822.6 716.5,819.9 720.5,817.9 724.5,815.9 728.5,818.7 732.5,820.0 736.5,820.4 740.5,819.6 744.5,819.1 748.5,816.9 752.5,815.2 756.5,814.7 760.5,815.1 764.5,816.4 768.5,819.4 772.5,820.5 776.5,821.4 780.5,822.5 784.5,823.1 788.5,823.1 792.5,821.1 796.5,816.7 800.5,813.8 804.5,811.3 808.5,808.1 812.5,804.8 816.5,802.6 820.5,797.1 824.5,792.7 828.5,789.8 832.5,787.7 836.5,785.7 840.5,785.3 844.5,783.7 848.5,783.7 852.5,784.7 856.5,786.1 860.5,788.3 864.5,789.9 868.5,789.4 872.5,788.8 876.5,789.0 880.5,789.3 884.5,791.3 888.5,791.9 892.5,792.5 896.5,792.7 900.5,793.3 904.5,792.4 908.5,792.8 912.5,794.0 916.5,796.5 920.5,800.7 924.5,802.4 928.5,804.6 932.5,806.8 936.5,807.7 940.5,807.6 944.5,809.5 948.5,811.1 952.5,811.0 956.5,810.0 960.5,807.8 964.5,805.5 968.5,803.5 972.5,801.0 976.5,796.9 980.5,793.5 984.5,792.1 988.5,792.1 992.5,791.1 996.5,792.0 1000.5,796.4 1004.5,795.6 1008.5,796.9 1012.5,798.6 1016.5,799.7 1020.5,799.2 1024.5,796.8 1028.5,795.4 1032.5,793.1 1036.5,792.4 1040.5,792.4 1044.5,792.9 1048.5,795.4 1052.5,799.5 1056.5,802.2 1060.5,804.5 1064.5,809.1 1068.5,814.2 1072.5,817.3 1076.5,820.2 1080.5,821.2 1084.5,820.2 1088.5,819.8 1092.5,819.7 1096.5,819.3 1100.5,820.3 1104.5,818.7 1108.5,817.4 1112.5,816.2 1116.5,815.5 1120.5,814.8 1124.5,813.0 1128.5,813.9 1132.5,813.4 1136.5,813.4 1140.5,813.8 1144.5,813.7 1148.5,815.4 1152.5,816.2 1156.5,817.9 1160.5,819.5 1164.5,822.1 1168.5,824.0 1172.5,825.9 1176.5,828.5 1180.5,829.4 1184.5,830.3 1188.5,827.2 1192.5,821.6 1196.5,818.9 1200.5,816.0 1204.5,814.1 1208.5,812.5 1212.5,810.7 1216.5,809.5 1220.5,805.7 1224.5,802.3 1228.5,799.7 1232.5,797.4 1236.5,796.4 1240.5,795.0 1244.5,794.8 1248.5,794.3 1252.5,792.7 1256.5,791.4 1260.5,791.1 1264.5,789.8 1268.5,790.1 1272.5,789.9 1276.5,789.6 1280.5,789.8 1284.5,790.4 1288.5,791.5 1292.5,794.7 1296.5,797.0 1300.5,796.4 1304.5,795.9 1308.5,796.1 1312.5,796.7 1316.5,797.5 1320.5,797.4 1324.5,796.8 1328.5,796.2 1332.5,795.7 1336.5,794.5 1340.5,794.9 1344.5,795.8 1348.5,795.8 1352.5,796.4 1356.5,796.6 1360.5,796.4 1364.5,795.4 1368.5,795.0 1372.5,794.5 1376.5,794.0 1380.5,795.2 1384.5,797.0 1388.5,798.7 1392.5,799.3 1396.5,799.1 1400.5,799.5 1404.5,799.0 1408.5,796.1 1412.5,794.8 1416.5,794.5 1420.5,794.7 1424.5,794.8 1428.5,793.1 1432.5,791.5 1436.5,790.0 1440.5,789.6 1444.5,788.2 1448.5,786.8 1452.5,787.2 1456.5,787.2 1460.5,786.4 1464.5,785.7 1468.5,784.9 1472.5,784.3 1476.5,784.5 1480.5,786.5 1484.5,787.8 1488.5,788.8 1492.5,789.5 1496.5,790.5 1500.5,792.4 1504.5,796.9 1508.5,799.3 1512.5,801.6 1516.5,805.7 1520.5,808.6 1524.5,809.5 1528.5,808.4 1532.5,807.9 1536.5,809.1 1540.5,810.6 1544.5,810.9 1548.5,808.1 1552.5,806.6 1556.5,805.1 1560.5,803.2 1564.5,797.0 1568.5,791.7 1572.5,788.0 1576.5,785.8 1580.5,785.0 1584.5,785.9 1588.5,785.3 1592.5,785.7 1596.5,785.5 1600.5,786.4 1604.5,789.0 1608.5,789.8 1612.5,790.6 1616.5,791.0 1620.5,791.8 1624.5,792.0 1628.5,790.7 1632.5,789.7 1636.5,791.2 1640.5,793.0 1644.5,796.2 1648.5,799.3 1652.5,800.9 1656.5,802.2 1660.5,803.7 1664.5,804.4 1668.5,806.3 1672.5,807.5 1676.5,808.6 1680.5,806.7 1684.5,805.1 1688.5,804.6 1692.5,803.1 1696.5,803.6 1700.5,803.7 1704.5,804.6" fill="none" stroke="#e6e6e6" stroke-width="1.1" stroke-linejoin="round" clip-path="url(#cd)"/>
<polyline points="64.5,804.5 68.5,808.1 72.5,811.5 76.5,814.8 80.5,818.4 84.5,822.2 88.5,825.8 92.5,829.5 96.5,832.8 100.5,835.5 104.5,837.4 108.5,839.2 112.5,840.9 116.5,842.3 120.5,843.4 124.5,844.6 128.5,845.6 132.5,846.8 136.5,847.6 140.5,847.6 144.5,847.1 148.5,846.6 152.5,846.3 156.5,845.8 160.5,844.9 164.5,844.2 168.5,843.9 172.5,843.4 176.5,842.4 180.5,841.3 184.5,839.6 188.5,837.4 192.5,834.8 196.5,832.4 200.5,830.2 204.5,827.9 208.5,826.3 212.5,825.4 216.5,824.6 220.5,823.5 224.5,822.1 228.5,820.2 232.5,818.0 236.5,815.8 240.5,813.9 244.5,812.1 248.5,810.5 252.5,808.5 256.5,806.3 260.5,804.1 264.5,801.9 268.5,799.6 272.5,797.6 276.5,796.3 280.5,795.8 284.5,796.3 288.5,797.9 292.5,799.9 296.5,802.2 300.5,804.6 304.5,806.8 308.5,808.9 312.5,810.6 316.5,811.5 320.5,811.6 324.5,810.9 328.5,809.5 332.5,808.6 336.5,807.8 340.5,807.7 344.5,807.8 348.5,808.4 352.5,809.6 356.5,811.0 360.5,812.6 364.5,814.1 368.5,816.0 372.5,817.4 376.5,818.5 380.5,819.1 384.5,818.9 388.5,817.3 392.5,814.9 396.5,811.5 400.5,807.4 404.5,802.7 408.5,797.9 412.5,793.9 416.5,790.8 420.5,788.1 424.5,785.9 428.5,783.9 432.5,782.7 436.5,781.3 440.5,779.7 444.5,777.6 448.5,775.2 452.5,772.6 456.5,769.7 460.5,767.3 464.5,765.1 468.5,762.7 472.5,759.9 476.5,755.8 480.5,750.4 484.5,743.8 488.5,737.2 492.5,731.1 496.5,727.3 500.5,725.9 504.5,726.3 508.5,727.7 512.5,730.2 516.5,733.2 520.5,736.6 524.5,739.6 528.5,743.1 532.5,747.1 536.5,750.7 540.5,753.9 544.5,756.5 548.5,759.0 552.5,762.0 556.5,764.4 560.5,766.4 564.5,768.3 568.5,770.3 572.5,772.8 576.5,774.8 580.5,776.5 584.5,777.4 588.5,778.0 592.5,777.9 596.5,777.8 600.5,777.7 604.5,777.6 608.5,777.8 612.5,778.2 616.5,778.9 620.5,779.8 624.5,781.1 628.5,782.3 632.5,783.5 636.5,784.7 640.5,785.8 644.5,787.2 648.5,789.1 652.5,791.0 656.5,792.6 660.5,794.2 664.5,796.8 668.5,800.5 672.5,805.2 676.5,810.0 680.5,814.5 684.5,818.7 688.5,822.3 692.5,824.7 696.5,826.4 700.5,827.2 704.5,827.6 708.5,827.3 712.5,826.4 716.5,825.1 720.5,823.7 724.5,822.1 728.5,821.4 732.5,821.1 736.5,821.0 740.5,820.7 744.5,820.4 748.5,819.7 752.5,818.8 756.5,818.0 760.5,817.4 764.5,817.2 768.5,817.6 772.5,818.2 776.5,818.8 780.5,819.6 784.5,820.3 788.5,820.9 792.5,820.9 796.5,820.0 800.5,818.8 804.5,817.3 808.5,815.5 812.5,813.3 816.5,811.2 820.5,808.4 824.5,805.2 828.5,802.2 832.5,799.3 836.5,796.6 840.5,794.3 844.5,792.2 848.5,790.5 852.5,789.3 856.5,788.7 860.5,788.6 864.5,788.9 868.5,789.0 872.5,788.9 876.5,788.9 880.5,789.0 884.5,789.5 888.5,790.0 892.5,790.5 896.5,790.9 900.5,791.4 904.5,791.6 908.5,791.8 912.5,792.2 916.5,793.1 920.5,794.6 924.5,796.2 928.5,797.9 932.5,799.6 936.5,801.3 940.5,802.5 944.5,803.9 948.5,805.4 952.5,806.5 956.5,807.2 960.5,807.3 964.5,807.0 968.5,806.3 972.5,805.2 976.5,803.6 980.5,801.6 984.5,799.7 988.5,798.2 992.5,796.7 996.5,795.8 1000.5,795.9 1004.5,795.8 1008.5,796.1 1012.5,796.6 1016.5,797.2 1020.5,797.6 1024.5,797.4 1028.5,797.0 1032.5,796.2 1036.5,795.5 1040.5,794.8 1044.5,794.4 1048.5,794.6 1052.5,795.6 1056.5,796.9 1060.5,798.5 1064.5,800.6 1068.5,803.3 1072.5,806.1 1076.5,808.9 1080.5,811.4 1084.5,813.1 1088.5,814.5 1092.5,815.5 1096.5,816.3 1100.5,817.1 1104.5,817.4 1108.5,817.4 1112.5,817.2 1116.5,816.8 1120.5,816.4 1124.5,815.7 1128.5,815.4 1132.5,815.0 1136.5,814.7 1140.5,814.5 1144.5,814.3 1148.5,814.5 1152.5,814.9 1156.5,815.5 1160.5,816.3 1164.5,817.4 1168.5,818.8 1172.5,820.2 1176.5,821.8 1180.5,823.4 1184.5,824.7 1188.5,825.2 1192.5,824.5 1196.5,823.4 1200.5,821.9 1204.5,820.3 1208.5,818.8 1212.5,817.2 1216.5,815.6 1220.5,813.6 1224.5,811.4 1228.5,809.0 1232.5,806.7 1236.5,804.7 1240.5,802.7 1244.5,801.2 1248.5,799.8 1252.5,798.4 1256.5,797.0 1260.5,795.8 1264.5,794.6 1268.5,793.7 1272.5,792.9 1276.5,792.3 1280.5,791.8 1284.5,791.5 1288.5,791.5 1292.5,792.1 1296.5,793.1 1300.5,793.8 1304.5,794.2 1308.5,794.6 1312.5,795.0 1316.5,795.5 1320.5,795.9 1324.5,796.1 1328.5,796.1 1332.5,796.0 1336.5,795.7 1340.5,795.5 1344.5,795.6 1348.5,795.6 1352.5,795.8 1356.5,795.9 1360.5,796.0 1364.5,795.9 1368.5,795.7 1372.5,795.5 1376.5,795.2 1380.5,795.2 1384.5,795.5 1388.5,796.2 1392.5,796.8 1396.5,797.3 1400.5,797.7 1404.5,798.0 1408.5,797.6 1412.5,797.0 1416.5,796.5 1420.5,796.2 1424.5,795.9 1428.5,795.3 1432.5,794.5 1436.5,793.6 1440.5,792.8 1444.5,791.9 1448.5,790.9 1452.5,790.2 1456.5,789.6 1460.5,788.9 1464.5,788.3 1468.5,787.6 1472.5,786.9 1476.5,786.4 1480.5,786.5 1484.5,786.7 1488.5,787.1 1492.5,787.6 1496.5,788.2 1500.5,789.0 1504.5,790.6 1508.5,792.3 1512.5,794.2 1516.5,796.5 1520.5,798.9 1524.5,801.0 1528.5,802.5 1532.5,803.6 1536.5,804.7 1540.5,805.9 1544.5,806.9 1548.5,807.1 1552.5,807.0 1556.5,806.6 1560.5,806.0 1564.5,804.2 1568.5,801.7 1572.5,798.9 1576.5,796.3 1580.5,794.0 1584.5,792.4 1588.5,791.0 1592.5,789.9 1596.5,789.0 1600.5,788.5 1604.5,788.6 1608.5,788.9 1612.5,789.2 1616.5,789.6 1620.5,790.0 1624.5,790.4 1628.5,790.5 1632.5,790.3 1636.5,790.5 1640.5,791.0 1644.5,792.0 1648.5,793.5 1652.5,795.0 1656.5,796.4 1660.5,797.9 1664.5,799.2 1668.5,800.6 1672.5,802.0 1676.5,803.3 1680.5,804.0 1684.5,804.2 1688.5,804.3 1692.5,804.0 1696.5,804.0 1700.5,803.9 1704.5,804.1" fill="none" stroke="#e6b800" stroke-width="1.3" stroke-linejoin="round" clip-path="url(#cd)"/>
</g>
<path d="M64.5 903V908M148.5 903V908M220.5 903V908M284.5 903V908M356.5 903V908M428.5 903V908M492.5 903V908M564.5 903V908M636.5 903V908M708.5 903V908M780.5 903V908M852.5 903V908M924.5 903V908M996.5 903V908M1068.5 903V908M1140.5 903V908M1212.5 903V908M1284.5 903V908M1356.5 903V908M1428.5 903V908M1500.5 903V908M1572.5 903V908M1644.5 903V908" stroke="#e0e0e0" shape-rendering="crispEdges"/>
<path d="M1853.5 192.5l7 -3.5v7z" fill="#f0f0f0"/>
<path d="M1852 423.5h10" stroke="#11d054" shape-rendering="crispEdges"/>
<text x="54" y="634.0" fill="#e8413f" font-size="12.3" text-anchor="end" font-family="'Liberation Sans','Noto Sans CJK SC',sans-serif" >660.0</text>
<text x="1866" y="634.0" fill="#e8413f" font-size="12.3" text-anchor="start" font-family="'Liberation Sans','Noto Sans CJK SC',sans-serif" >660.0</text>
<text x="54" y="570.0" fill="#e8413f" font-size="12.3" text-anchor="end" font-family="'Liberation Sans','Noto Sans CJK SC',sans-serif" >680.0</text>
<text x="1866" y="570.0" fill="#e8413f" font-size="12.3" text-anchor="start" font-family="'Liberation Sans','Noto Sans CJK SC',sans-serif" >680.0</text>
<text x="54" y="506.0" fill="#e8413f" font-size="12.3" text-anchor="end" font-family="'Liberation Sans','Noto Sans CJK SC',sans-serif" >700.0</text>
<text x="1866" y="506.0" fill="#e8413f" font-size="12.3" text-anchor="start" font-family="'Liberation Sans','Noto Sans CJK SC',sans-serif" >700.0</text>
<text x="54" y="442.0" fill="#e8413f" font-size="12.3" text-anchor="end" font-family="'Liberation Sans','Noto Sans CJK SC',sans-serif" >720.0</text>
<text x="1866" y="442.0" fill="#e8413f" font-size="12.3" text-anchor="start" font-family="'Liberation Sans','Noto Sans CJK SC',sans-serif" >720.0</text>
<text x="54" y="379.0" fill="#e8413f" font-size="12.3" text-anchor="end" font-family="'Liberation Sans','Noto Sans CJK SC',sans-serif" >740.0</text>
<text x="1866" y="379.0" fill="#e8413f" font-size="12.3" text-anchor="start" font-family="'Liberation Sans','Noto Sans CJK SC',sans-serif" >740.0</text>
<text x="54" y="315.0" fill="#e8413f" font-size="12.3" text-anchor="end" font-family="'Liberation Sans','Noto Sans CJK SC',sans-serif" >760.0</text>
<text x="1866" y="315.0" fill="#e8413f" font-size="12.3" text-anchor="start" font-family="'Liberation Sans','Noto Sans CJK SC',sans-serif" >760.0</text>
<text x="54" y="251.0" fill="#e8413f" font-size="12.3" text-anchor="end" font-family="'Liberation Sans','Noto Sans CJK SC',sans-serif" >780.0</text>
<text x="1866" y="251.0" fill="#e8413f" font-size="12.3" text-anchor="start" font-family="'Liberation Sans','Noto Sans CJK SC',sans-serif" >780.0</text>
<text x="54" y="187.0" fill="#e8413f" font-size="12.3" text-anchor="end" font-family="'Liberation Sans','Noto Sans CJK SC',sans-serif" >800.0</text>
<text x="1866" y="187.0" fill="#e8413f" font-size="12.3" text-anchor="start" font-family="'Liberation Sans','Noto Sans CJK SC',sans-serif" >800.0</text>
<text x="54" y="124.0" fill="#e8413f" font-size="12.3" text-anchor="end" font-family="'Liberation Sans','Noto Sans CJK SC',sans-serif" >820.0</text>
<text x="1866" y="124.0" fill="#e8413f" font-size="12.3" text-anchor="start" font-family="'Liberation Sans','Noto Sans CJK SC',sans-serif" >820.0</text>
<text x="54" y="718.1" fill="#e8413f" font-size="12.3" text-anchor="end" font-family="'Liberation Sans','Noto Sans CJK SC',sans-serif" >30.51</text>
<text x="1866" y="718.1" fill="#e8413f" font-size="12.3" text-anchor="start" font-family="'Liberation Sans','Noto Sans CJK SC',sans-serif" >30.51</text>
<text x="54" y="743.0" fill="#e8413f" font-size="12.3" text-anchor="end" font-family="'Liberation Sans','Noto Sans CJK SC',sans-serif" >20.34</text>
<text x="1866" y="743.0" fill="#e8413f" font-size="12.3" text-anchor="start" font-family="'Liberation Sans','Noto Sans CJK SC',sans-serif" >20.34</text>
<text x="54" y="776.0" fill="#e8413f" font-size="12.3" text-anchor="end" font-family="'Liberation Sans','Noto Sans CJK SC',sans-serif" >10.17</text>
<text x="1866" y="776.0" fill="#e8413f" font-size="12.3" text-anchor="start" font-family="'Liberation Sans','Noto Sans CJK SC',sans-serif" >10.17</text>
<text x="54" y="809.0" fill="#e6e6e6" font-size="12.3" text-anchor="end" font-family="'Liberation Sans','Noto Sans CJK SC',sans-serif" >0.00</text>
<text x="1866" y="809.0" fill="#e6e6e6" font-size="12.3" text-anchor="start" font-family="'Liberation Sans','Noto Sans CJK SC',sans-serif" >0.00</text>
<text x="54" y="842.0" fill="#18c255" font-size="12.3" text-anchor="end" font-family="'Liberation Sans','Noto Sans CJK SC',sans-serif" >-10.17</text>
<text x="1866" y="842.0" fill="#18c255" font-size="12.3" text-anchor="start" font-family="'Liberation Sans','Noto Sans CJK SC',sans-serif" >-10.17</text>
<text x="54" y="875.0" fill="#18c255" font-size="12.3" text-anchor="end" font-family="'Liberation Sans','Noto Sans CJK SC',sans-serif" >-20.34</text>
<text x="1866" y="875.0" fill="#18c255" font-size="12.3" text-anchor="start" font-family="'Liberation Sans','Noto Sans CJK SC',sans-serif" >-20.34</text>
<text x="54" y="899.4" fill="#18c255" font-size="12.3" text-anchor="end" font-family="'Liberation Sans','Noto Sans CJK SC',sans-serif" >-30.51</text>
<text x="1866" y="899.4" fill="#18c255" font-size="12.3" text-anchor="start" font-family="'Liberation Sans','Noto Sans CJK SC',sans-serif" >-30.51</text>
<text x="64.0" y="919.5" fill="#e6e6e6" font-size="12.3" text-anchor="middle" font-family="'Liberation Sans','Noto Sans CJK SC',sans-serif" >2024/09</text>
<text x="148.0" y="919.5" fill="#e6e6e6" font-size="12.3" text-anchor="middle" font-family="'Liberation Sans','Noto Sans CJK SC',sans-serif" >09/06</text>
<text x="220.0" y="919.5" fill="#e6e6e6" font-size="12.3" text-anchor="middle" font-family="'Liberation Sans','Noto Sans CJK SC',sans-serif" >09/11</text>
<text x="284.0" y="919.5" fill="#e6e6e6" font-size="12.3" text-anchor="middle" font-family="'Liberation Sans','Noto Sans CJK SC',sans-serif" >09/18</text>
<text x="356.0" y="919.5" fill="#e6e6e6" font-size="12.3" text-anchor="middle" font-family="'Liberation Sans','Noto Sans CJK SC',sans-serif" >09/23</text>
<text x="428.0" y="919.5" fill="#e6e6e6" font-size="12.3" text-anchor="middle" font-family="'Liberation Sans','Noto Sans CJK SC',sans-serif" >09/26</text>
<text x="492.0" y="919.5" fill="#e6e6e6" font-size="12.3" text-anchor="middle" font-family="'Liberation Sans','Noto Sans CJK SC',sans-serif" >10/08</text>
<text x="564.0" y="919.5" fill="#e6e6e6" font-size="12.3" text-anchor="middle" font-family="'Liberation Sans','Noto Sans CJK SC',sans-serif" >10/11</text>
<text x="636.0" y="919.5" fill="#e6e6e6" font-size="12.3" text-anchor="middle" font-family="'Liberation Sans','Noto Sans CJK SC',sans-serif" >10/16</text>
<text x="708.0" y="919.5" fill="#e6e6e6" font-size="12.3" text-anchor="middle" font-family="'Liberation Sans','Noto Sans CJK SC',sans-serif" >10/21</text>
<text x="780.0" y="919.5" fill="#e6e6e6" font-size="12.3" text-anchor="middle" font-family="'Liberation Sans','Noto Sans CJK SC',sans-serif" >10/24</text>
<text x="852.0" y="919.5" fill="#e6e6e6" font-size="12.3" text-anchor="middle" font-family="'Liberation Sans','Noto Sans CJK SC',sans-serif" >10/29</text>
<text x="924.0" y="919.5" fill="#e6e6e6" font-size="12.3" text-anchor="middle" font-family="'Liberation Sans','Noto Sans CJK SC',sans-serif" >11/01</text>
<text x="996.0" y="919.5" fill="#e6e6e6" font-size="12.3" text-anchor="middle" font-family="'Liberation Sans','Noto Sans CJK SC',sans-serif" >11/06</text>
<text x="1068.0" y="919.5" fill="#e6e6e6" font-size="12.3" text-anchor="middle" font-family="'Liberation Sans','Noto Sans CJK SC',sans-serif" >11/11</text>
<text x="1140.0" y="919.5" fill="#e6e6e6" font-size="12.3" text-anchor="middle" font-family="'Liberation Sans','Noto Sans CJK SC',sans-serif" >11/14</text>
<text x="1212.0" y="919.5" fill="#e6e6e6" font-size="12.3" text-anchor="middle" font-family="'Liberation Sans','Noto Sans CJK SC',sans-serif" >11/19</text>
<text x="1284.0" y="919.5" fill="#e6e6e6" font-size="12.3" text-anchor="middle" font-family="'Liberation Sans','Noto Sans CJK SC',sans-serif" >11/22</text>
<text x="1356.0" y="919.5" fill="#e6e6e6" font-size="12.3" text-anchor="middle" font-family="'Liberation Sans','Noto Sans CJK SC',sans-serif" >11/27</text>
<text x="1428.0" y="919.5" fill="#e6e6e6" font-size="12.3" text-anchor="middle" font-family="'Liberation Sans','Noto Sans CJK SC',sans-serif" >12/02</text>
<text x="1500.0" y="919.5" fill="#e6e6e6" font-size="12.3" text-anchor="middle" font-family="'Liberation Sans','Noto Sans CJK SC',sans-serif" >12/05</text>
<text x="1572.0" y="919.5" fill="#e6e6e6" font-size="12.3" text-anchor="middle" font-family="'Liberation Sans','Noto Sans CJK SC',sans-serif" >12/10</text>
<text x="1644.0" y="919.5" fill="#e6e6e6" font-size="12.3" text-anchor="middle" font-family="'Liberation Sans','Noto Sans CJK SC',sans-serif" >12/13</text>
<g clip-path="url(#cm)">
<text x="368.2" y="679.3" fill="#2499ff" font-size="12.3" text-anchor="middle" font-family="'Liberation Sans','Noto Sans CJK SC',sans-serif" >650.0</text>
<text x="492.2" y="81.1" fill="#2499ff" font-size="12.3" text-anchor="middle" font-family="'Liberation Sans','Noto Sans CJK SC',sans-serif" >829.5</text>
<text x="788.2" y="419.5" fill="#2499ff" font-size="12.3" text-anchor="middle" font-family="'Liberation Sans','Noto Sans CJK SC',sans-serif" >731.5</text>
<text x="868.2" y="229.3" fill="#2499ff" font-size="12.3" text-anchor="middle" font-family="'Liberation Sans','Noto Sans CJK SC',sans-serif" >783.0</text>
<text x="944.2" y="354.1" fill="#2499ff" font-size="12.3" text-anchor="middle" font-family="'Liberation Sans','Noto Sans CJK SC',sans-serif" >752.0</text>
<text x="1036.2" y="202.2" fill="#2499ff" font-size="12.3" text-anchor="middle" font-family="'Liberation Sans','Noto Sans CJK SC',sans-serif" >791.5</text>
<text x="1184.2" y="429.1" fill="#2499ff" font-size="12.3" text-anchor="middle" font-family="'Liberation Sans','Noto Sans CJK SC',sans-serif" >728.5</text>
<text x="1472.2" y="178.3" fill="#2499ff" font-size="12.3" text-anchor="middle" font-family="'Liberation Sans','Noto Sans CJK SC',sans-serif" >799.0</text>
<text x="1516.2" y="301.6" fill="#2499ff" font-size="12.3" text-anchor="middle" font-family="'Liberation Sans','Noto Sans CJK SC',sans-serif" >768.5</text>
<text x="1572.2" y="113.0" fill="#2499ff" font-size="12.3" text-anchor="middle" font-family="'Liberation Sans','Noto Sans CJK SC',sans-serif" >819.5</text>
<text x="1672.2" y="239.4" fill="#2499ff" font-size="12.3" text-anchor="middle" font-family="'Liberation Sans','Noto Sans CJK SC',sans-serif" >788.0</text>
<text x="1688" y="98.5" fill="#e73bb9" font-size="12.3" text-anchor="middle" font-family="'Liberation Sans','Noto Sans CJK SC',sans-serif" >823.8</text>
<path d="M494.90000000000003 90.1h10.6M497.20000000000005 88.1L494.90000000000003 90.1l2.3 2" stroke="#f4f4f4" stroke-width="1.1" fill="none"/>
<text x="505.7" y="94.5" fill="#f4f4f4" font-size="11.3" text-anchor="start" font-family="'Liberation Sans','Noto Sans CJK SC',sans-serif" >829.5</text>
<path d="M372.5 662.5h10.6M374.8 660.5L372.5 662.5l2.3 2" stroke="#f4f4f4" stroke-width="1.1" fill="none"/>
<text x="383.3" y="666.9" fill="#f4f4f4" font-size="11.3" text-anchor="start" font-family="'Liberation Sans','Noto Sans CJK SC',sans-serif" >650</text>
<path d="M66.6 451.3h10.6M68.89999999999999 449.3L66.6 451.3l2.3 2" stroke="#f4f4f4" stroke-width="1.1" fill="none"/>
<text x="77.4" y="455.7" fill="#f4f4f4" font-size="11.3" text-anchor="start" font-family="'Liberation Sans','Noto Sans CJK SC',sans-serif" >716</text>
<path d="M790.9 402.5h10.6M793.2 400.5L790.9 402.5l2.3 2" stroke="#f4f4f4" stroke-width="1.1" fill="none"/>
<text x="801.7" y="406.9" fill="#f4f4f4" font-size="11.3" text-anchor="start" font-family="'Liberation Sans','Noto Sans CJK SC',sans-serif" >731.5</text>
<path d="M1038.8999999999999 211.2h10.6M1041.1999999999998 209.2L1038.8999999999999 211.2l2.3 2" stroke="#f4f4f4" stroke-width="1.1" fill="none"/>
<text x="1049.7" y="215.6" fill="#f4f4f4" font-size="11.3" text-anchor="start" font-family="'Liberation Sans','Noto Sans CJK SC',sans-serif" >791.5</text>
<path d="M1186.8999999999999 412.1h10.6M1189.1999999999998 410.1L1186.8999999999999 412.1l2.3 2" stroke="#f4f4f4" stroke-width="1.1" fill="none"/>
<text x="1197.7" y="416.5" fill="#f4f4f4" font-size="11.3" text-anchor="start" font-family="'Liberation Sans','Noto Sans CJK SC',sans-serif" >728.5</text>
<path d="M1574.8999999999999 122.0h10.6M1577.1999999999998 120.0L1574.8999999999999 122.0l2.3 2" stroke="#f4f4f4" stroke-width="1.1" fill="none"/>
<text x="1585.7" y="126.4" fill="#f4f4f4" font-size="11.3" text-anchor="start" font-family="'Liberation Sans','Noto Sans CJK SC',sans-serif" >819.5</text>
<text x="455" y="416" fill="#e8c020" font-size="15" text-anchor="middle" font-family="'Liberation Sans','Noto Sans CJK SC',sans-serif" >A1金叉</text>
<text x="620" y="246" fill="#22b3ab" font-size="15" text-anchor="middle" font-family="'Liberation Sans','Noto Sans CJK SC',sans-serif" >A2金叉</text>
<text x="1155" y="357" fill="#e8c020" font-size="15" text-anchor="middle" font-family="'Liberation Sans','Noto Sans CJK SC',sans-serif" >A1死叉</text>
<text x="1280" y="291" fill="#e8c020" font-size="15" text-anchor="middle" font-family="'Liberation Sans','Noto Sans CJK SC',sans-serif" >A1金叉</text>
</g>
</svg>
<svg class="ic" style="left:11px;top:6px" width="12" height="14" viewBox="0 0 12 14" fill="none" stroke="#cfcfcf" stroke-width="1.1"><path d="M1.500 1.500L5 7l-3.500 5.500M6 1.500L9.500 7 6 12.500"/></svg>
<div class="b" style="left:27px;width:38px">分时</div>
<div class="b" style="left:71px;width:38px">日线</div>
<div class="b" style="left:115px;width:38px">周线</div>
<div class="b" style="left:159px;width:38px">月线</div>
<div class="b" style="left:203px;width:33px">1分</div>
<div class="b" style="left:242px;width:33px">5分</div>
<div class="b" style="left:281px;width:40px">15分</div>
<div class="b" style="left:327px;width:40px">30分</div>
<div class="b on" style="left:373px;width:40px">60分</div>
<div class="b" style="left:419px;width:47px">240分</div>
<div class="b" style="left:472px;width:29px"><span style="display:inline-block;width:3px;height:3px;background:#d8d8d8;margin:0 1px 3px 1px"></span><span style="display:inline-block;width:3px;height:3px;background:#d8d8d8;margin:0 1px 3px 1px"></span><span style="display:inline-block;width:3px;height:3px;background:#d8d8d8;margin:0 1px 3px 1px"></span></div>
<div class="b" style="left:507px;width:75px;text-align:left;text-indent:8px">多周期图<span style="position:absolute;left:61px;top:7px;width:0;height:0;border:4px solid transparent;border-top:5px solid #d0d0d0"></span></div>
<div class="b" style="left:588px;width:62px">合约资料</div>
<svg class="ic" style="left:8.0px;top:28.0px" width="16" height="16" viewBox="0 0 16 16" fill="none" stroke="#c2c2c2" stroke-width="1.1"><path d="M2.5 13.5L13.5 2.5" stroke-width="1.4"/></svg>
<svg class="ic" style="left:39.0px;top:28.0px" width="16" height="16" viewBox="0 0 16 16" fill="none" stroke="#c2c2c2" stroke-width="1.1"><path d="M5.500 10.500L10.500 5.500"/><rect x="2.500" y="10.500" width="3" height="3"/><rect x="10.500" y="2.500" width="3" height="3"/></svg>
<svg class="ic" style="left:70.0px;top:28.0px" width="16" height="16" viewBox="0 0 16 16" fill="none" stroke="#c2c2c2" stroke-width="1.1"><path d="M2 13L5.200 7.500c1.500-.5 1.800 1.200 1.500 3.500 1.500 1.500 2.500-1 2-3l1 1.500 3-4"/><path d="M10.800 4.500h3.200v3.400z" fill="#c2c2c2" stroke="none"/></svg>
<svg class="ic" style="left:101.0px;top:28.0px" width="16" height="16" viewBox="0 0 16 16" fill="none" stroke="#c2c2c2" stroke-width="1.1"><path d="M6 4.200H12.200V10.500M4.200 6V12.200H10.500" stroke="#8c8c8c" stroke-width="1.800"/><rect x="2.500" y="2.500" width="3" height="3" fill="#1c1d21"/><rect x="10.500" y="10.500" width="3" height="3" fill="#1c1d21"/></svg>
<svg class="ic" style="left:132.0px;top:28.0px" width="16" height="16" viewBox="0 0 16 16" fill="none" stroke="#c2c2c2" stroke-width="1.1"><path d="M4 4.5h9v6.5H4z" stroke="#9a9a9a" stroke-width="1.4"/><path d="M4 13.5h9" stroke="#9a9a9a"/><circle cx="3.5" cy="4" r="1.5" fill="#1c1d21"/><circle cx="13" cy="11.5" r="1.5" fill="#1c1d21"/></svg>
<svg class="ic" style="left:163.0px;top:28.0px" width="16" height="16" viewBox="0 0 16 16" fill="none" stroke="#c2c2c2" stroke-width="1.1"><path d="M2.5 3h11v8h-7l-4 3z"/></svg>
<svg class="ic" style="left:193.5px;top:28.0px" width="16" height="16" viewBox="0 0 16 16" fill="none" stroke="#c2c2c2" stroke-width="1.1"><path d="M3.5 3h9M3.5 13.5h9M5.5 7.5l5 2.5" stroke="#b0b0b0"/><circle cx="4" cy="7" r="1.5"/><circle cx="12" cy="10.5" r="1.5"/></svg>
<svg class="ic" style="left:224.5px;top:28.0px" width="16" height="16" viewBox="0 0 16 16" fill="none" stroke="#c2c2c2" stroke-width="1.1"><path d="M3 2.5h10M3 13.5h10M5.5 6.5h5M5.5 10.5l5-1" stroke="#b0b0b0"/><circle cx="4" cy="6.5" r="1.4"/><circle cx="12" cy="6.5" r="1.4"/><circle cx="4" cy="10.8" r="1.4"/></svg>
<svg class="ic" style="left:256.0px;top:28.0px" width="16" height="16" viewBox="0 0 16 16" fill="none" stroke="#c2c2c2" stroke-width="1.1"><path d="M8 2.5L13.5 8.5h-3v5h-5v-5h-3z"/></svg>
<svg class="ic" style="left:287.0px;top:28.0px" width="16" height="16" viewBox="0 0 16 16" fill="none" stroke="#c2c2c2" stroke-width="1.1"><path d="M8 13.5L2.500 7.5h3v-5h5v5h3z"/></svg>
<div class="t" style="left:319px;top:29px;font-size:14px;color:#d0d0d0;letter-spacing:1px;font-weight:bold">···</div>
<div class="sep" style="left:346px;top:29px;height:14px"></div>
<div style="position:absolute;left:352px;top:27px;width:29px;height:18px;background:#1b5a85;border-radius:1px"></div>
<svg class="ic" style="left:358.5px;top:28.0px" width="16" height="16" viewBox="0 0 16 16" fill="none" stroke="#c2c2c2" stroke-width="1.1"><path d="M3.5 2.5v6a4.5 4.5 0 0 0 9 0v-6h-2.6v6a1.9 1.9 0 0 1-3.8 0v-6z" stroke="#a9c6dc"/></svg>
<svg class="ic" style="left:390.0px;top:28.0px" width="16" height="16" viewBox="0 0 16 16" fill="none" stroke="#c2c2c2" stroke-width="1.1"><rect x="2.5" y="2.500" width="8" height="8"/><rect x="6.5" y="6.5" width="7" height="7" fill="#1c1d21"/></svg>
<svg class="ic" style="left:420.5px;top:28.0px" width="16" height="16" viewBox="0 0 16 16" fill="none" stroke="#c2c2c2" stroke-width="1.1"><path d="M4 10.500L10.500 3.500l2.500 2.500L6.500 12.500H4zM3 14.500h10"/></svg>
<div class="sep" style="left:449px;top:29px;height:14px"></div>
<svg class="ic" style="left:462.0px;top:28.0px" width="16" height="16" viewBox="0 0 16 16" fill="none" stroke="#c2c2c2" stroke-width="1.1"><path d="M1.5 8.500c2-3.500 4.300-4.500 6.500-4.500s4.500 1 6.500 4.500c-2 3-4.300 4-6.500 4s-4.500-1-6.500-4z"/><circle cx="8" cy="8.500" r="1.800"/></svg>
<svg class="ic" style="left:492.0px;top:28.0px" width="16" height="16" viewBox="0 0 16 16" fill="none" stroke="#c2c2c2" stroke-width="1.1"><path d="M2.500 4.500h11M5.500 4.500v-2h5v2M3.500 4.500v9h9v-9M6.500 7.500v3.500M9.500 7.500v3.500"/></svg>
<svg class="ic" style="left:522.0px;top:28.0px" width="16" height="16" viewBox="0 0 16 16" fill="none" stroke="#c2c2c2" stroke-width="1.1"><rect x="2.500" y="2.500" width="4.500" height="4.500"/><rect x="2.500" y="9.500" width="4.500" height="4.500"/><rect x="9.500" y="9.500" width="4.500" height="4.500"/><path d="M11.700 1.800l2.800 3-2.800 3-2.800-3z"/></svg>
<svg class="ic" style="left:552.0px;top:28.0px" width="16" height="16" viewBox="0 0 16 16" fill="none" stroke="#c2c2c2" stroke-width="1.1"><path d="M8 2.500H2.500v11h11V8M9.500 2.500h4v4M13.500 2.500L7.500 8.500"/></svg>
<svg class="ic" style="left:582.0px;top:28.0px" width="16" height="16" viewBox="0 0 16 16" fill="none" stroke="#c2c2c2" stroke-width="1.1"><path d="M2.500 2.500h11v8.500H6.500l-3 2.500v-2.500h-1z"/><path d="M6 6.500c1.300 1.200 2.700 1.200 4 0" stroke-width="1"/></svg>
<div class="sep" style="left:610px;top:29px;height:14px"></div>
<svg class="ic" style="left:623.0px;top:28.0px" width="16" height="16" viewBox="0 0 16 16" fill="none" stroke="#c2c2c2" stroke-width="1.1"><path d="M2 10.500L10.500 2l3.500 3.500L5.500 14zM5 9.500l1.300 1.300M7 7.500l1.300 1.300M9 5.500l1.300 1.300" stroke-linejoin="round"/></svg>
<svg class="ic" style="left:1733.0px;top:4.5px" width="16" height="16" viewBox="0 0 16 16" fill="none" stroke="#2e97ff" stroke-width="1.4"><path d="M3.500 10L10 3l2.500 2.500L6 12.500H3.500zM8 14.500h6" /></svg>
<svg class="ic" style="left:1757.0px;top:4.5px" width="16" height="16" viewBox="0 0 16 16" fill="none" stroke="#c2c2c2" stroke-width="1.1"><path d="M2 12.500h12M3.500 12.500V8a4.500 4.500 0 0 1 9 0v4.500M6.800 14.200a1.300 1.300 0 0 0 2.400 0"/></svg>
<svg class="ic" style="left:1781.0px;top:4.5px" width="16" height="16" viewBox="0 0 16 16" fill="none" stroke="#c2c2c2" stroke-width="1.1"><path d="M4.500 13a3 3 0 0 1-.5-5.900A4 4 0 0 1 12 7a3 3 0 0 1-.5 6z"/><path d="M6.500 8.500h3M6.500 10.500h3" stroke-width="1"/></svg>
<svg class="ic" style="left:1805.0px;top:4.5px" width="16" height="16" viewBox="0 0 16 16" fill="none" stroke="#c2c2c2" stroke-width="1.1"><path d="M2 5h12v9H2zM6 5V3.200h4V5"/><circle cx="8" cy="9.500" r="2"/></svg>
<svg class="ic" style="left:1828.0px;top:4.5px" width="16" height="16" viewBox="0 0 16 16" fill="none" stroke="#c2c2c2" stroke-width="1.1"><rect x="2" y="2.500" width="8.500" height="8"/><rect x="6" y="6" width="8" height="7.500" fill="rgba(28,29,33,.6)"/></svg>
<svg class="ic" style="left:1851.0px;top:4.5px" width="16" height="16" viewBox="0 0 16 16" fill="none" stroke="#c2c2c2" stroke-width="1.1"><path d="M2 2.500h12v9H2zM4.500 14.500h7M8 11.500v3"/><path d="M5 9.500V8M7 9.500V6.500M9 9.500V5M11 9.500V6.500" stroke="#9a9a9a" stroke-width="1.400"/></svg>
<svg class="ic" style="left:1874.5px;top:4.5px" width="16" height="16" viewBox="0 0 16 16" fill="none" stroke="#c2c2c2" stroke-width="1.1"><path d="M2.500 5.500v-3h3M10.500 2.500h3v3M13.500 10.500v3h-3M5.500 13.500h-3v-3M13 3l-3 3M3 13l3-3"/></svg>
<svg class="ic" style="left:1901.500px;top:6px" width="12" height="14" viewBox="0 0 12 14" fill="none" stroke="#cfcfcf" stroke-width="1.1"><path d="M10.500 1.500L7 7l3.500 5.500M6 1.500L2.500 7 6 12.500"/></svg>
<svg class="ic" style="left:1803.0px;top:48.0px" width="16" height="16" viewBox="0 0 16 16" fill="none" stroke="#c2c2c2" stroke-width="1.1"><path d="M3.500 6.500h6.500a3.500 3.500 0 0 1 0 7H3.500M6.500 3.500l-3 3 3 3"/></svg>
<svg class="ic" style="left:1827.0px;top:48.0px" width="16" height="16" viewBox="0 0 16 16" fill="none" stroke="#c2c2c2" stroke-width="1.1"><circle cx="8" cy="8" r="5.800"/><path d="M5 8h6M8 5v6" stroke-width="1.600"/></svg>
<svg class="ic" style="left:1851.0px;top:48.0px" width="16" height="16" viewBox="0 0 16 16" fill="none" stroke="#c2c2c2" stroke-width="1.1"><circle cx="8" cy="8" r="5.800"/><path d="M5 8h6" stroke-width="1.600"/></svg>
<svg class="ic" style="left:1875.0px;top:48.0px" width="16" height="16" viewBox="0 0 16 16" fill="none" stroke="#c2c2c2" stroke-width="1.1"><path d="M9 12.500H2.500v-10h10V8"/><rect x="9.500" y="9.500" width="4.500" height="4.500" stroke-width="1.500"/></svg>
<svg class="ic" style="left:1899.0px;top:48.0px" width="16" height="16" viewBox="0 0 16 16" fill="none" stroke="#c2c2c2" stroke-width="1.1"><path d="M1.800 8l3.100-5.400h6.200l3.100 5.400-3.100 5.400H4.900z"/><circle cx="8" cy="8" r="1.800"/></svg>
<div class="t" style="left:9px;top:49px;color:#ecc892;">60分 铁矿石2505</div>
<div class="t" style="left:119px;top:49px;color:#ecc892;">EMA</div>
<div class="t" style="left:148px;top:49px;color:#22c4b8;">MA1:772.5</div>
<svg class="ic" style="left:218px;top:51px" width="8" height="12" viewBox="0 0 8 12"><path d="M4 0.500L7 5H5v6.500H3V5H1z" fill="#ff3b3b"/></svg>
<div class="t" style="left:231px;top:49px;color:#17b050;">MA2:770.8</div>
<svg class="ic" style="left:301px;top:51px" width="8" height="12" viewBox="0 0 8 12"><path d="M4 0.500L7 5H5v6.500H3V5H1z" fill="#ff3b3b"/></svg>
<div class="t" style="left:314px;top:49px;color:#dc48cf;">MA3:768.0</div>
<svg class="ic" style="left:384px;top:51px" width="8" height="12" viewBox="0 0 8 12"><path d="M4 0.500L7 5H5v6.500H3V5H1z" fill="#ff3b3b"/></svg>
<div class="t" style="left:397px;top:49px;color:#ee3040;">MA4:764.6</div>
<svg class="ic" style="left:467px;top:51px" width="8" height="12" viewBox="0 0 8 12"><path d="M4 0.500L7 5H5v6.500H3V5H1z" fill="#ff3b3b"/></svg>
<svg class="ic" style="left:12px;top:687px" width="14" height="14" viewBox="0 0 14 14"><circle cx="7" cy="7" r="6.500" fill="#c8c8c8"/><path d="M3.500 5h7L7 10.500z" fill="#1c1d21"/></svg>
<div class="t" style="left:31px;top:686px;color:#ecc892;">MACD(12,26,9)</div>
<div class="t" style="left:132px;top:686px;color:#e8e8e8;">DIFF:1.64</div>
<svg class="ic" style="left:192px;top:688px" width="8" height="12" viewBox="0 0 8 12"><path d="M4 0.500L7 5H5v6.500H3V5H1z" fill="#ff3b3b"/></svg>
<div class="t" style="left:204px;top:686px;color:#e6b800;">DEA:2.26</div>
<svg class="ic" style="left:263px;top:688px" width="8" height="12" viewBox="0 0 8 12"><path d="M4 11.500L7 7H5V0.500H3V7H1z" fill="#18c255"/></svg>
<div class="t" style="left:276px;top:686px;color:#18c255;">MACD:-1.24</div>
<svg class="ic" style="left:354px;top:688px" width="8" height="12" viewBox="0 0 8 12"><path d="M4 0.500L7 5H5v6.500H3V5H1z" fill="#ff3b3b"/></svg>
<svg class="ic" style="left:1876.0px;top:686.0px" width="14" height="14" viewBox="0 0 16 16" fill="none" stroke="#c2c2c2" stroke-width="1.1"><circle cx="8" cy="8" r="5.300"/><path d="M6 6l4 4M10 6l-4 4"/></svg>
<svg class="ic" style="left:1900.0px;top:686.0px" width="14" height="14" viewBox="0 0 16 16" fill="none" stroke="#c2c2c2" stroke-width="1.1"><path d="M1.800 8l3.100-5.400h6.200l3.100 5.400-3.100 5.400H4.900z"/><circle cx="8" cy="8" r="1.800"/></svg>
<div style="position:absolute;left:4px;top:926px;width:432px;height:18px;border:1px solid #3b3c41"></div>
<div class="t" style="left:4px;top:926px;width:19px;height:20px;background:#3a3b40;text-align:center;line-height:22px;color:#e0e0e0">副</div>
<div class="t" style="left:-17px;width:120px;text-align:center;top:929px;color:#c8c8c8;">RSI</div>
<div class="t" style="left:32px;width:120px;text-align:center;top:929px;color:#2e97ff;">MACD</div>
<div class="t" style="left:109px;width:120px;text-align:center;top:929px;color:#c8c8c8;">线性回归斜率</div>
<div class="t" style="left:185px;width:120px;text-align:center;top:929px;color:#c8c8c8;">增仓量</div>
<div class="t" style="left:243px;width:120px;text-align:center;top:929px;color:#c8c8c8;">持仓量</div>
<div class="t" style="left:301px;width:120px;text-align:center;top:929px;color:#c8c8c8;">成交量</div>
<div class="t" style="left:353px;width:120px;text-align:center;top:929px;color:#c8c8c8;">基差</div>
<div style="position:absolute;left:450px;top:926px;width:298px;height:18px;border:1px solid #3b3c41"></div>
<div class="t" style="left:450px;top:926px;width:20px;height:20px;background:#3a3b40;text-align:center;line-height:22px;color:#e0e0e0">主</div>
<div class="t" style="left:433px;width:120px;text-align:center;top:929px;color:#2e97ff;">EMA</div>
<div class="t" style="left:492px;width:120px;text-align:center;top:929px;color:#c8c8c8;">Boll陷阱</div>
<div class="t" style="left:561px;width:120px;text-align:center;top:929px;color:#c8c8c8;">现货价格</div>
<div class="t" style="left:617px;width:120px;text-align:center;top:929px;color:#c8c8c8;">MA</div>
<div class="t" style="left:664px;width:120px;text-align:center;top:929px;color:#c8c8c8;">BOLL</div>
<div class="t" style="left:766px;top:926px;width:64px;height:18px;line-height:20px;border:1px solid #404146;background:#303136;border-radius:2px;text-align:center;color:#d4d4d4">指标管理</div>
<svg class="ic" style="left:1896.5px;top:926.0px" width="17" height="17" viewBox="0 0 16 16" fill="none" stroke="#c2c2c2" stroke-width="1.1"><path d="M8 14.500C5 11.500 3 9.300 3 6.800a5 5 0 0 1 10 0c0 2.500-2 4.700-5 7.700z"/><circle cx="8" cy="6.800" r="1.700"/></svg>
<div style="position:absolute;left:1px;top:949px;width:1916px;height:24px;background:#333439"></div>
<div style="position:absolute;left:1px;top:949px;width:23px;height:24px;background:#323338"></div>
<svg class="ic" style="left:6px;top:954px" width="14" height="14" viewBox="0 0 14 14" fill="none" stroke="#c8c8c8" stroke-width="1.200"><path d="M2 7l5-4 5 4M2 11.500l5-4 5 4"/></svg>
<div style="position:absolute;left:25px;top:949px;width:80px;height:24px;background:#47484d"></div>
<div class="sep" style="left:105px;top:949px;height:24px;background:#25262a"></div>
<div class="sep" style="left:185px;top:949px;height:24px;background:#25262a"></div>
<div class="sep" style="left:265px;top:949px;height:24px;background:#25262a"></div>
<div class="sep" style="left:345px;top:949px;height:24px;background:#25262a"></div>
<div class="t" style="left:5px;width:120px;text-align:center;top:953px;color:#c6c6c6;font-size:13px;">资讯</div>
<div class="t" style="left:85px;width:120px;text-align:center;top:953px;color:#c6c6c6;font-size:13px;">关联品种</div>
<div class="t" style="left:165px;width:120px;text-align:center;top:953px;color:#c6c6c6;font-size:13px;">相关合约</div>
<div class="t" style="left:244px;width:120px;text-align:center;top:953px;color:#c6c6c6;font-size:13px;">期权链</div>
<div class="t" style="left:1845px;top:952px;width:64px;height:17px;line-height:17px;border:1px solid #2b7fd0;background:#2c2d32;border-radius:2px;text-align:center;color:#e0e0e0">持仓分析</div>
</body></html>
